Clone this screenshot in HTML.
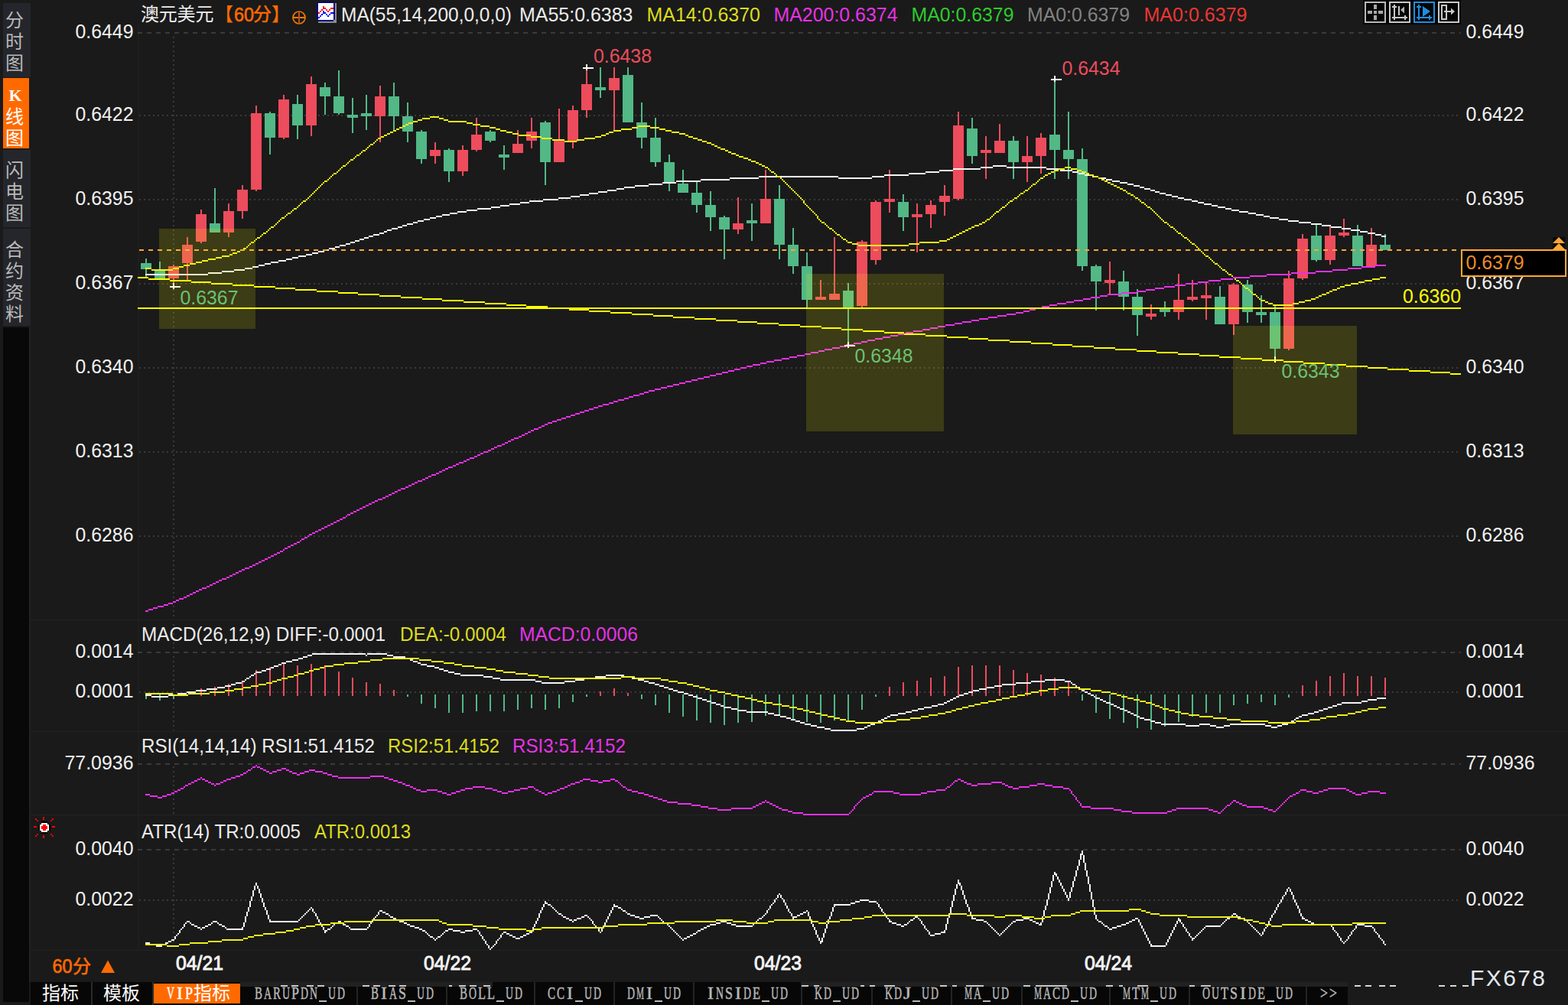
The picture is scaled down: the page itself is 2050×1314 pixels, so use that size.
<!DOCTYPE html><html><head><meta charset="utf-8"><title>chart</title>
<style>html,body{margin:0;padding:0;background:#1b1b1b;overflow:hidden}svg{display:block}text{font-family:"Liberation Sans",sans-serif;white-space:pre}.mono{font-family:"Liberation Mono",monospace}.serif{font-family:"Liberation Serif",serif}.cjk{font-family:"Liberation Sans","Noto Sans CJK SC",sans-serif}</style></head><body>
<svg width="2050" height="1314" viewBox="0 0 2050 1314">
<rect x="0" y="0" width="2050" height="1314" fill="#1a1a1a" />
<g shape-rendering="crispEdges">
<rect x="182" y="0" width="1728" height="1243" fill="#1a1a1a" />
<rect x="180" y="32" width="2" height="1211" fill="#1e1e1e" />
<rect x="4" y="4" width="36" height="97" fill="#25262b" />
<rect x="4" y="102" width="34" height="92" fill="#ff6a00" />
<rect x="4" y="196" width="36" height="101" fill="#25262b" />
<rect x="4" y="299" width="36" height="127" fill="#25262b" />
<rect x="4" y="428" width="34" height="882" fill="#080808" />
</g>
<text class="cjk" x="7" y="35.12" fill="#b9b9b9" font-size="24">分</text>
<text class="cjk" x="7" y="63.12" fill="#b9b9b9" font-size="24">时</text>
<text class="cjk" x="7" y="91.12" fill="#b9b9b9" font-size="24">图</text>
<text class="cjk" x="7" y="161.12" fill="#ffffff" font-size="24">线</text>
<text class="cjk" x="7" y="189.12" fill="#ffffff" font-size="24">图</text>
<text x="20" y="132" fill="#fff" font-size="22" text-anchor="middle" class="serif" style="font-family:'Liberation Serif',serif" font-weight="bold">K</text>
<text class="cjk" x="7" y="231.12" fill="#b9b9b9" font-size="24">闪</text>
<text class="cjk" x="7" y="259.12" fill="#b9b9b9" font-size="24">电</text>
<text class="cjk" x="7" y="287.12" fill="#b9b9b9" font-size="24">图</text>
<text class="cjk" x="7" y="335.12" fill="#b9b9b9" font-size="24">合</text>
<text class="cjk" x="7" y="363.12" fill="#b9b9b9" font-size="24">约</text>
<text class="cjk" x="7" y="391.12" fill="#b9b9b9" font-size="24">资</text>
<text class="cjk" x="7" y="419.12" fill="#b9b9b9" font-size="24">料</text>
<g shape-rendering="crispEdges">
<line x1="180" y1="43" x2="1910" y2="43" stroke="#3a3a3a" stroke-width="2" stroke-dasharray="6 6"/>
<line x1="182" y1="151" x2="1910" y2="151" stroke="#3a3a3a" stroke-width="2" stroke-dasharray="2 4"/>
<line x1="182" y1="261" x2="1910" y2="261" stroke="#3a3a3a" stroke-width="2" stroke-dasharray="2 4"/>
<line x1="182" y1="371" x2="1910" y2="371" stroke="#3a3a3a" stroke-width="2" stroke-dasharray="2 4"/>
<line x1="182" y1="481" x2="1910" y2="481" stroke="#3a3a3a" stroke-width="2" stroke-dasharray="2 4"/>
<line x1="182" y1="591" x2="1910" y2="591" stroke="#3a3a3a" stroke-width="2" stroke-dasharray="2 4"/>
<line x1="182" y1="701" x2="1910" y2="701" stroke="#3a3a3a" stroke-width="2" stroke-dasharray="2 4"/>
<rect x="40" y="810" width="2010" height="1" fill="#232323" />
<rect x="40" y="956" width="2010" height="1" fill="#232323" />
<rect x="40" y="1065" width="2010" height="1" fill="#232323" />
<rect x="40" y="1242" width="2010" height="1" fill="#232323" />
<line x1="180" y1="853" x2="1910" y2="853" stroke="#3a3a3a" stroke-width="2" stroke-dasharray="6 6"/>
<line x1="182" y1="905" x2="1910" y2="905" stroke="#3a3a3a" stroke-width="2" stroke-dasharray="2 4"/>
<line x1="180" y1="999" x2="1910" y2="999" stroke="#3a3a3a" stroke-width="2" stroke-dasharray="6 6"/>
<line x1="180" y1="1111" x2="1910" y2="1111" stroke="#3a3a3a" stroke-width="2" stroke-dasharray="6 6"/>
<line x1="182" y1="1177" x2="1910" y2="1177" stroke="#3a3a3a" stroke-width="2" stroke-dasharray="2 4"/>
<line x1="227" y1="48" x2="227" y2="809" stroke="#3a3a3a" stroke-width="2" stroke-dasharray="2 4"/>
<line x1="227" y1="816" x2="227" y2="955" stroke="#3a3a3a" stroke-width="2" stroke-dasharray="2 4"/>
<line x1="227" y1="1002" x2="227" y2="1064" stroke="#3a3a3a" stroke-width="2" stroke-dasharray="2 4"/>
<line x1="227" y1="1116" x2="227" y2="1241" stroke="#3a3a3a" stroke-width="2" stroke-dasharray="2 4"/>
</g>
<g shape-rendering="crispEdges">
<rect x="190" y="338" width="2" height="23.5" fill="#52b886" />
<rect x="184" y="344" width="14" height="8" fill="#52b886" />
<rect x="208" y="342" width="2" height="22" fill="#52b886" />
<rect x="202" y="353.5" width="14" height="10.5" fill="#52b886" />
<rect x="226" y="346" width="2" height="29" fill="#ed4c5c" />
<rect x="220" y="348" width="14" height="16" fill="#ed4c5c" />
<rect x="244" y="310" width="2" height="56" fill="#ed4c5c" />
<rect x="238" y="320" width="14" height="24" fill="#ed4c5c" />
<rect x="262" y="274" width="2" height="44" fill="#ed4c5c" />
<rect x="256" y="280" width="14" height="36" fill="#ed4c5c" />
<rect x="280" y="246" width="2" height="58" fill="#52b886" />
<rect x="274" y="292" width="14" height="12" fill="#52b886" />
<rect x="298" y="266" width="2" height="44" fill="#ed4c5c" />
<rect x="292" y="276" width="14" height="28" fill="#ed4c5c" />
<rect x="316" y="242" width="2" height="44" fill="#ed4c5c" />
<rect x="310" y="248" width="14" height="28" fill="#ed4c5c" />
<rect x="334" y="138" width="2" height="112" fill="#ed4c5c" />
<rect x="328" y="148" width="14" height="100" fill="#ed4c5c" />
<rect x="352" y="146" width="2" height="56" fill="#52b886" />
<rect x="346" y="148" width="14" height="32" fill="#52b886" />
<rect x="370" y="124" width="2" height="58" fill="#ed4c5c" />
<rect x="364" y="130" width="14" height="50" fill="#ed4c5c" />
<rect x="388" y="124" width="2" height="58" fill="#52b886" />
<rect x="382" y="136" width="14" height="28" fill="#52b886" />
<rect x="406" y="100" width="2" height="78" fill="#ed4c5c" />
<rect x="400" y="110" width="14" height="54" fill="#ed4c5c" />
<rect x="424" y="108" width="2" height="42" fill="#52b886" />
<rect x="418" y="114" width="14" height="12" fill="#52b886" />
<rect x="442" y="92" width="2" height="58" fill="#52b886" />
<rect x="436" y="126" width="14" height="22" fill="#52b886" />
<rect x="460" y="128" width="2" height="46" fill="#52b886" />
<rect x="454" y="150" width="14" height="4" fill="#52b886" />
<rect x="478" y="124" width="2" height="46" fill="#52b886" />
<rect x="472" y="148" width="14" height="4" fill="#52b886" />
<rect x="496" y="112" width="2" height="74" fill="#ed4c5c" />
<rect x="490" y="126" width="14" height="26" fill="#ed4c5c" />
<rect x="514" y="108" width="2" height="62" fill="#52b886" />
<rect x="508" y="126" width="14" height="26" fill="#52b886" />
<rect x="532" y="134" width="2" height="52" fill="#52b886" />
<rect x="526" y="152" width="14" height="20" fill="#52b886" />
<rect x="550" y="170" width="2" height="44" fill="#52b886" />
<rect x="544" y="172" width="14" height="36" fill="#52b886" />
<rect x="568" y="186" width="2" height="28" fill="#ed4c5c" />
<rect x="562" y="196" width="14" height="8" fill="#ed4c5c" />
<rect x="586" y="194" width="2" height="44" fill="#52b886" />
<rect x="580" y="196" width="14" height="28" fill="#52b886" />
<rect x="604" y="190" width="2" height="40" fill="#ed4c5c" />
<rect x="598" y="196" width="14" height="28" fill="#ed4c5c" />
<rect x="622" y="154" width="2" height="44" fill="#ed4c5c" />
<rect x="616" y="176" width="14" height="20" fill="#ed4c5c" />
<rect x="640" y="170" width="2" height="16" fill="#52b886" />
<rect x="634" y="172" width="14" height="12" fill="#52b886" />
<rect x="658" y="190" width="2" height="32" fill="#52b886" />
<rect x="652" y="202" width="14" height="4" fill="#52b886" />
<rect x="676" y="170" width="2" height="30" fill="#ed4c5c" />
<rect x="670" y="188" width="14" height="12" fill="#ed4c5c" />
<rect x="694" y="154" width="2" height="40" fill="#ed4c5c" />
<rect x="688" y="172" width="14" height="12" fill="#ed4c5c" />
<rect x="712" y="158" width="2" height="84" fill="#52b886" />
<rect x="706" y="160" width="14" height="52" fill="#52b886" />
<rect x="730" y="142" width="2" height="70" fill="#ed4c5c" />
<rect x="724" y="184" width="14" height="28" fill="#ed4c5c" />
<rect x="748" y="138" width="2" height="56" fill="#ed4c5c" />
<rect x="742" y="144" width="14" height="41" fill="#ed4c5c" />
<rect x="766" y="89" width="2" height="65" fill="#ed4c5c" />
<rect x="760" y="110" width="14" height="34" fill="#ed4c5c" />
<rect x="784" y="88" width="2" height="40" fill="#52b886" />
<rect x="778" y="114" width="14" height="4" fill="#52b886" />
<rect x="802" y="88" width="2" height="82" fill="#ed4c5c" />
<rect x="796" y="102" width="14" height="16" fill="#ed4c5c" />
<rect x="820" y="88" width="2" height="72" fill="#52b886" />
<rect x="814" y="98" width="14" height="62" fill="#52b886" />
<rect x="838" y="134" width="2" height="60" fill="#52b886" />
<rect x="832" y="160" width="14" height="20" fill="#52b886" />
<rect x="856" y="154" width="2" height="64" fill="#52b886" />
<rect x="850" y="180" width="14" height="32" fill="#52b886" />
<rect x="874" y="202" width="2" height="48" fill="#52b886" />
<rect x="868" y="212" width="14" height="28" fill="#52b886" />
<rect x="892" y="222" width="2" height="30" fill="#52b886" />
<rect x="886" y="240" width="14" height="12" fill="#52b886" />
<rect x="910" y="238" width="2" height="40" fill="#52b886" />
<rect x="904" y="252" width="14" height="16" fill="#52b886" />
<rect x="928" y="250" width="2" height="52" fill="#52b886" />
<rect x="922" y="268" width="14" height="16" fill="#52b886" />
<rect x="946" y="282" width="2" height="56.5" fill="#52b886" />
<rect x="940" y="284" width="14" height="16" fill="#52b886" />
<rect x="964" y="258" width="2" height="48" fill="#ed4c5c" />
<rect x="958" y="292" width="14" height="8" fill="#ed4c5c" />
<rect x="982" y="266" width="2" height="48.5" fill="#52b886" />
<rect x="976" y="288" width="14" height="4" fill="#52b886" />
<rect x="1000" y="222" width="2" height="70" fill="#ed4c5c" />
<rect x="994" y="260" width="14" height="32" fill="#ed4c5c" />
<rect x="1018" y="242" width="2" height="96.5" fill="#52b886" />
<rect x="1012" y="260" width="14" height="60" fill="#52b886" />
<rect x="1036" y="298" width="2" height="60" fill="#52b886" />
<rect x="1030" y="320" width="14" height="28" fill="#52b886" />
<rect x="1054" y="330" width="2" height="74" fill="#52b886" />
<rect x="1048" y="348" width="14" height="43.5" fill="#52b886" />
<rect x="1072" y="366" width="2" height="25.5" fill="#ed4c5c" />
<rect x="1066" y="388" width="14" height="3.5" fill="#ed4c5c" />
<rect x="1090" y="310" width="2" height="81.5" fill="#ed4c5c" />
<rect x="1084" y="384" width="14" height="7.5" fill="#ed4c5c" />
<rect x="1108" y="370" width="2" height="81.5" fill="#52b886" />
<rect x="1102" y="380" width="14" height="22" fill="#52b886" />
<rect x="1126" y="314" width="2" height="88" fill="#ed4c5c" />
<rect x="1120" y="316" width="14" height="84" fill="#ed4c5c" />
<rect x="1144" y="262" width="2" height="84" fill="#ed4c5c" />
<rect x="1138" y="264" width="14" height="76" fill="#ed4c5c" />
<rect x="1162" y="222" width="2" height="56" fill="#ed4c5c" />
<rect x="1156" y="260" width="14" height="4" fill="#ed4c5c" />
<rect x="1180" y="254" width="2" height="48" fill="#52b886" />
<rect x="1174" y="264" width="14" height="20" fill="#52b886" />
<rect x="1198" y="266" width="2" height="64" fill="#ed4c5c" />
<rect x="1192" y="280" width="14" height="4" fill="#ed4c5c" />
<rect x="1216" y="262" width="2" height="36" fill="#ed4c5c" />
<rect x="1210" y="268" width="14" height="12" fill="#ed4c5c" />
<rect x="1234" y="242" width="2" height="40" fill="#ed4c5c" />
<rect x="1228" y="256" width="14" height="8" fill="#ed4c5c" />
<rect x="1252" y="146" width="2" height="116" fill="#ed4c5c" />
<rect x="1246" y="164" width="14" height="96" fill="#ed4c5c" />
<rect x="1270" y="154" width="2" height="60" fill="#52b886" />
<rect x="1264" y="168" width="14" height="36" fill="#52b886" />
<rect x="1288" y="178" width="2" height="56" fill="#ed4c5c" />
<rect x="1282" y="196" width="14" height="4" fill="#ed4c5c" />
<rect x="1306" y="162" width="2" height="38" fill="#ed4c5c" />
<rect x="1300" y="184" width="14" height="16" fill="#ed4c5c" />
<rect x="1324" y="178" width="2" height="56" fill="#52b886" />
<rect x="1318" y="184" width="14" height="28" fill="#52b886" />
<rect x="1342" y="178" width="2" height="60" fill="#ed4c5c" />
<rect x="1336" y="204" width="14" height="8" fill="#ed4c5c" />
<rect x="1360" y="174" width="2" height="52.5" fill="#ed4c5c" />
<rect x="1354" y="180" width="14" height="24" fill="#ed4c5c" />
<rect x="1378" y="104" width="2" height="130" fill="#52b886" />
<rect x="1372" y="176" width="14" height="20" fill="#52b886" />
<rect x="1396" y="146" width="2" height="88" fill="#52b886" />
<rect x="1390" y="196" width="14" height="12" fill="#52b886" />
<rect x="1414" y="194" width="2" height="160" fill="#52b886" />
<rect x="1408" y="208" width="14" height="140" fill="#52b886" />
<rect x="1432" y="346" width="2" height="60" fill="#52b886" />
<rect x="1426" y="348" width="14" height="20" fill="#52b886" />
<rect x="1450" y="342" width="2" height="42" fill="#ed4c5c" />
<rect x="1444" y="366" width="14" height="4" fill="#ed4c5c" />
<rect x="1468" y="354" width="2" height="52" fill="#52b886" />
<rect x="1462" y="368" width="14" height="20" fill="#52b886" />
<rect x="1486" y="378" width="2" height="60.5" fill="#52b886" />
<rect x="1480" y="388" width="14" height="24" fill="#52b886" />
<rect x="1504" y="398" width="2" height="20" fill="#ed4c5c" />
<rect x="1498" y="410" width="14" height="4" fill="#ed4c5c" />
<rect x="1522" y="394" width="2" height="20" fill="#52b886" />
<rect x="1516" y="404" width="14" height="4" fill="#52b886" />
<rect x="1540" y="358" width="2" height="60" fill="#ed4c5c" />
<rect x="1534" y="392" width="14" height="16" fill="#ed4c5c" />
<rect x="1558" y="366" width="2" height="28" fill="#ed4c5c" />
<rect x="1552" y="388" width="14" height="4" fill="#ed4c5c" />
<rect x="1576" y="370" width="2" height="48" fill="#ed4c5c" />
<rect x="1570" y="386" width="14" height="4" fill="#ed4c5c" />
<rect x="1594" y="374" width="2" height="50" fill="#52b886" />
<rect x="1588" y="388" width="14" height="36" fill="#52b886" />
<rect x="1612" y="370" width="2" height="68" fill="#ed4c5c" />
<rect x="1606" y="372" width="14" height="52" fill="#ed4c5c" />
<rect x="1630" y="366" width="2" height="56" fill="#52b886" />
<rect x="1624" y="372" width="14" height="36" fill="#52b886" />
<rect x="1648" y="386" width="2" height="36" fill="#52b886" />
<rect x="1642" y="408" width="14" height="4" fill="#52b886" />
<rect x="1666" y="400" width="2" height="72" fill="#52b886" />
<rect x="1660" y="408" width="14" height="48" fill="#52b886" />
<rect x="1684" y="354" width="2" height="104" fill="#ed4c5c" />
<rect x="1678" y="364" width="14" height="92" fill="#ed4c5c" />
<rect x="1702" y="306" width="2" height="60" fill="#ed4c5c" />
<rect x="1696" y="312" width="14" height="52" fill="#ed4c5c" />
<rect x="1720" y="292" width="2" height="50" fill="#52b886" />
<rect x="1714" y="308" width="14" height="32" fill="#52b886" />
<rect x="1738" y="296" width="2" height="50" fill="#ed4c5c" />
<rect x="1732" y="308" width="14" height="32" fill="#ed4c5c" />
<rect x="1756" y="286" width="2" height="24" fill="#ed4c5c" />
<rect x="1750" y="304" width="14" height="4" fill="#ed4c5c" />
<rect x="1774" y="294" width="2" height="54" fill="#52b886" />
<rect x="1768" y="308" width="14" height="40" fill="#52b886" />
<rect x="1792" y="298" width="2" height="50" fill="#ed4c5c" />
<rect x="1786" y="320" width="14" height="28" fill="#ed4c5c" />
<rect x="1810" y="306" width="2" height="21" fill="#52b886" />
<rect x="1804" y="320" width="14" height="7" fill="#52b886" />
<path d="M190 358h82v2h-82zM272 356h18v2h-18zM290 354h16v2h-16zM306 352h14v2h-14zM320 350h10v2h-10zM330 348h8v2h-8zM338 346h8v2h-8zM346 344h8v2h-8zM354 342h10v2h-10zM364 340h10v2h-10zM374 338h8v2h-8zM382 336h8v2h-8zM390 334h10v2h-10zM400 332h8v2h-8zM408 330h8v2h-8zM416 328h8v2h-8zM424 326h6v2h-6zM430 324h8v2h-8zM438 322h6v2h-6zM444 320h8v2h-8zM452 318h6v2h-6zM458 316h6v2h-6zM464 314h6v2h-6zM470 312h6v2h-6zM476 310h6v2h-6zM482 308h6v2h-6zM488 306h8v2h-8zM496 304h6v2h-6zM502 302h4v2h-4zM506 300h6v2h-6zM512 298h8v2h-8zM520 296h6v2h-6zM526 294h6v2h-6zM532 292h8v2h-8zM540 290h6v2h-6zM546 288h8v2h-8zM554 286h8v2h-8zM562 284h8v2h-8zM570 282h8v2h-8zM578 280h10v2h-10zM588 278h10v2h-10zM598 276h12v2h-12zM610 274h14v2h-14zM624 272h18v2h-18zM642 270h12v2h-12zM654 268h12v2h-12zM666 266h14v2h-14zM680 264h12v2h-12zM692 262h18v2h-18zM710 260h20v2h-20zM730 258h16v2h-16zM746 256h12v2h-12zM758 254h12v2h-12zM770 252h12v2h-12zM782 250h12v2h-12zM794 248h12v2h-12zM806 246h10v2h-10zM816 244h14v2h-14zM830 242h18v2h-18zM848 240h18v2h-18zM866 238h18v2h-18zM884 236h32v2h-32zM916 234h38v2h-38zM954 232h38v2h-38zM992 230h104v2h-104zM1096 232h44v2h-44zM1140 230h16v2h-16zM1156 228h32v2h-32zM1188 226h22v2h-22zM1210 224h18v2h-18zM1228 222h18v2h-18zM1246 220h36v2h-36zM1282 218h16v2h-16zM1298 216h18v2h-18zM1316 218h52v2h-52zM1368 220h18v2h-18zM1386 222h16v2h-16zM1402 224h8v2h-8zM1410 226h8v2h-8zM1418 228h10v2h-10zM1428 230h8v2h-8zM1436 232h10v2h-10zM1446 234h8v2h-8zM1454 236h10v2h-10zM1464 238h10v2h-10zM1474 240h8v2h-8zM1482 242h8v2h-8zM1490 244h6v2h-6zM1496 246h8v2h-8zM1504 248h6v2h-6zM1510 250h6v2h-6zM1516 252h8v2h-8zM1524 254h8v2h-8zM1532 256h8v2h-8zM1540 258h8v2h-8zM1548 260h10v2h-10zM1558 262h8v2h-8zM1566 264h8v2h-8zM1574 266h10v2h-10zM1584 268h8v2h-8zM1592 270h10v2h-10zM1602 272h8v2h-8zM1610 274h10v2h-10zM1620 276h12v2h-12zM1632 278h10v2h-10zM1642 280h10v2h-10zM1652 282h8v2h-8zM1660 284h12v2h-12zM1672 286h12v2h-12zM1684 288h14v2h-14zM1698 290h16v2h-16zM1714 292h14v2h-14zM1728 294h12v2h-12zM1740 296h14v2h-14zM1754 298h12v2h-12zM1766 300h12v2h-12zM1778 302h10v2h-10zM1788 304h10v2h-10zM1798 306h8v2h-8zM1806 308h6v2h-6z" fill="#f4f4f4" />
<path d="M190 350h8v2h-8zM198 352h28v2h-28zM226 350h8v2h-8zM234 348h6v2h-6zM240 346h8v2h-8zM248 344h8v2h-8zM256 342h8v2h-8zM264 340h8v2h-8zM272 338h10v2h-10zM282 336h8v2h-8zM290 334h10v2h-10zM300 332h4v2h-4zM304 330h6v2h-6zM310 328h4v2h-4zM314 326h4v2h-4zM318 324h4v2h-4zM322 322h2v2h-2zM324 320h2v2h-2zM326 318h2v2h-2zM328 316h4v2h-4zM332 314h2v2h-2zM334 312h2v2h-2zM336 310h4v2h-4zM340 308h2v2h-2zM342 306h2v2h-2zM344 304h4v2h-4zM348 302h2v2h-2zM350 300h2v2h-2zM352 298h2v2h-2zM354 296h4v2h-4zM358 294h2v2h-2zM360 292h2v2h-2zM362 290h2v2h-2zM364 288h2v2h-2zM366 286h2v2h-2zM368 284h4v2h-4zM372 282h2v2h-2zM374 280h2v2h-2zM376 278h4v2h-4zM380 276h2v2h-2zM382 274h2v2h-2zM384 272h4v2h-4zM388 270h2v2h-2zM390 268h2v2h-2zM392 266h2v2h-2zM394 264h2v2h-2zM396 262h4v2h-4zM400 260h2v2h-2zM402 258h2v2h-2zM404 256h2v2h-2zM406 254h2v2h-2zM408 252h2v2h-2zM410 250h2v2h-2zM412 248h2v2h-2zM414 246h2v2h-2zM416 244h2v2h-2zM418 242h2v2h-2zM420 240h2v2h-2zM422 238h2v2h-2zM424 236h4v2h-4zM428 234h2v2h-2zM430 232h2v2h-2zM432 230h2v2h-2zM434 228h2v2h-2zM436 226h4v2h-4zM440 224h2v2h-2zM442 222h2v2h-2zM444 220h2v2h-2zM446 218h2v2h-2zM448 216h4v2h-4zM452 214h2v2h-2zM454 212h2v2h-2zM456 210h2v2h-2zM458 208h4v2h-4zM462 206h2v2h-2zM464 204h2v2h-2zM466 202h4v2h-4zM470 200h2v2h-2zM472 198h2v2h-2zM474 196h4v2h-4zM478 194h2v2h-2zM480 192h2v2h-2zM482 190h2v2h-2zM484 188h4v2h-4zM488 186h2v2h-2zM490 184h2v2h-2zM492 182h2v2h-2zM494 180h4v2h-4zM498 178h4v2h-4zM502 176h4v2h-4zM506 174h4v2h-4zM510 172h4v2h-4zM514 170h4v2h-4zM518 168h4v2h-4zM522 166h4v2h-4zM526 164h4v2h-4zM530 162h4v2h-4zM534 160h6v2h-6zM540 158h6v2h-6zM546 156h6v2h-6zM552 154h10v2h-10zM562 152h12v2h-12zM574 154h6v2h-6zM580 156h6v2h-6zM586 158h24v2h-24zM610 160h8v2h-8zM618 162h10v2h-10zM628 164h12v2h-12zM640 166h8v2h-8zM648 168h6v2h-6zM654 170h8v2h-8zM662 172h8v2h-8zM670 174h8v2h-8zM678 176h16v2h-16zM694 178h14v2h-14zM708 180h14v2h-14zM722 182h16v2h-16zM738 184h16v2h-16zM754 182h10v2h-10zM764 180h14v2h-14zM778 178h8v2h-8zM786 176h6v2h-6zM792 174h4v2h-4zM796 172h6v2h-6zM802 170h10v2h-10zM812 168h14v2h-14zM826 166h8v2h-8zM834 164h16v2h-16zM850 166h12v2h-12zM862 168h8v2h-8zM870 170h8v2h-8zM878 172h10v2h-10zM888 174h8v2h-8zM896 176h4v2h-4zM900 178h6v2h-6zM906 180h6v2h-6zM912 182h6v2h-6zM918 184h6v2h-6zM924 186h6v2h-6zM930 188h4v2h-4zM934 190h4v2h-4zM938 192h4v2h-4zM942 194h6v2h-6zM948 196h4v2h-4zM952 198h4v2h-4zM956 200h6v2h-6zM962 202h4v2h-4zM966 204h6v2h-6zM972 206h6v2h-6zM978 208h4v2h-4zM982 210h6v2h-6zM988 212h4v2h-4zM992 214h4v2h-4zM996 216h4v2h-4zM1000 218h4v2h-4zM1004 220h2v2h-2zM1006 222h2v2h-2zM1008 224h4v2h-4zM1012 226h2v2h-2zM1014 228h2v2h-2zM1016 230h4v2h-4zM1020 232h2v2h-2zM1022 234h2v2h-2zM1024 236h2v2h-2zM1026 238h2v2h-2zM1028 240h2v2h-2zM1030 242h2v2h-2zM1032 244h2v2h-2zM1034 246h2v2h-2zM1036 248h2v2h-2zM1038 250h2v2h-2zM1040 252h2v2h-2zM1042 254h2v2h-2zM1044 256h2v2h-2zM1046 258h2v2h-2zM1048 260h2v2h-2zM1050 262h2v4h-2zM1052 266h2v2h-2zM1054 268h2v2h-2zM1056 270h2v2h-2zM1058 272h2v2h-2zM1060 274h2v2h-2zM1062 276h2v2h-2zM1064 278h2v2h-2zM1066 280h2v2h-2zM1068 282h2v4h-2zM1070 286h2v2h-2zM1072 288h2v2h-2zM1074 290h4v2h-4zM1078 292h2v2h-2zM1080 294h2v2h-2zM1082 296h2v2h-2zM1084 298h4v2h-4zM1088 300h2v2h-2zM1090 302h2v2h-2zM1092 304h2v2h-2zM1094 306h4v2h-4zM1098 308h2v2h-2zM1100 310h2v2h-2zM1102 312h4v2h-4zM1106 314h2v2h-2zM1108 316h6v2h-6zM1114 318h8v2h-8zM1122 320h66v2h-66zM1188 318h14v2h-14zM1202 316h26v2h-26zM1228 314h10v2h-10zM1238 312h4v2h-4zM1242 310h4v2h-4zM1246 308h4v2h-4zM1250 306h4v2h-4zM1254 304h4v2h-4zM1258 302h4v2h-4zM1262 300h4v2h-4zM1266 298h4v2h-4zM1270 296h4v2h-4zM1274 294h6v2h-6zM1280 292h4v2h-4zM1284 290h4v2h-4zM1288 288h2v2h-2zM1290 286h4v2h-4zM1294 284h2v2h-2zM1296 282h2v2h-2zM1298 280h2v2h-2zM1300 278h2v2h-2zM1302 276h4v2h-4zM1306 274h2v2h-2zM1308 272h2v2h-2zM1310 270h4v2h-4zM1314 268h2v2h-2zM1316 266h2v2h-2zM1318 264h2v2h-2zM1320 262h4v2h-4zM1324 260h2v2h-2zM1326 258h4v2h-4zM1330 256h2v2h-2zM1332 254h2v2h-2zM1334 252h4v2h-4zM1338 250h2v2h-2zM1340 248h4v2h-4zM1344 246h2v2h-2zM1346 244h2v2h-2zM1348 242h2v2h-2zM1350 240h4v2h-4zM1354 238h2v2h-2zM1356 236h2v2h-2zM1358 234h2v2h-2zM1360 232h4v2h-4zM1364 230h2v2h-2zM1366 228h4v2h-4zM1370 226h4v2h-4zM1374 224h4v2h-4zM1378 222h6v2h-6zM1384 220h8v2h-8zM1392 218h8v2h-8zM1400 220h8v2h-8zM1408 222h6v2h-6zM1414 224h6v2h-6zM1420 226h4v2h-4zM1424 228h6v2h-6zM1430 230h6v2h-6zM1436 232h4v2h-4zM1440 234h4v2h-4zM1444 236h4v2h-4zM1448 238h4v2h-4zM1452 240h4v2h-4zM1456 242h4v2h-4zM1460 244h4v2h-4zM1464 246h4v2h-4zM1468 248h4v2h-4zM1472 250h2v2h-2zM1474 252h4v2h-4zM1478 254h4v2h-4zM1482 256h2v2h-2zM1484 258h4v2h-4zM1488 260h2v2h-2zM1490 262h2v2h-2zM1492 264h4v2h-4zM1496 266h2v2h-2zM1498 268h2v2h-2zM1500 270h4v2h-4zM1504 272h2v2h-2zM1506 274h2v2h-2zM1508 276h2v2h-2zM1510 278h2v2h-2zM1512 280h2v2h-2zM1514 282h2v2h-2zM1516 284h2v2h-2zM1518 286h2v2h-2zM1520 288h2v2h-2zM1522 290h4v2h-4zM1526 292h2v2h-2zM1528 294h2v2h-2zM1530 296h4v2h-4zM1534 298h2v2h-2zM1536 300h2v2h-2zM1538 302h2v2h-2zM1540 304h4v2h-4zM1544 306h2v2h-2zM1546 308h2v2h-2zM1548 310h4v2h-4zM1552 312h2v2h-2zM1554 314h2v2h-2zM1556 316h2v2h-2zM1558 318h4v2h-4zM1562 320h2v2h-2zM1564 322h2v2h-2zM1566 324h2v2h-2zM1568 326h2v2h-2zM1570 328h2v2h-2zM1572 330h2v2h-2zM1574 332h2v2h-2zM1576 334h4v2h-4zM1580 336h2v2h-2zM1582 338h2v2h-2zM1584 340h2v2h-2zM1586 342h2v2h-2zM1588 344h4v2h-4zM1592 346h2v2h-2zM1594 348h2v2h-2zM1596 350h2v2h-2zM1598 352h4v2h-4zM1602 354h2v2h-2zM1604 356h2v2h-2zM1606 358h4v2h-4zM1610 360h2v2h-2zM1612 362h2v2h-2zM1614 364h2v2h-2zM1616 366h4v2h-4zM1620 368h2v2h-2zM1622 370h2v2h-2zM1624 372h2v2h-2zM1626 374h2v2h-2zM1628 376h4v2h-4zM1632 378h2v2h-2zM1634 380h2v2h-2zM1636 382h2v2h-2zM1638 384h4v2h-4zM1642 386h2v2h-2zM1644 388h2v2h-2zM1646 390h2v2h-2zM1648 392h6v2h-6zM1654 394h4v2h-4zM1658 396h6v2h-6zM1664 398h26v2h-26zM1690 396h8v2h-8zM1698 394h8v2h-8zM1706 392h8v2h-8zM1714 390h6v2h-6zM1720 388h4v2h-4zM1724 386h4v2h-4zM1728 384h6v2h-6zM1734 382h4v2h-4zM1738 380h4v2h-4zM1742 378h6v2h-6zM1748 376h4v2h-4zM1752 374h6v2h-6zM1758 372h8v2h-8zM1766 370h10v2h-10zM1776 368h8v2h-8zM1784 366h10v2h-10zM1794 364h10v2h-10zM1804 362h8v2h-8z" fill="#f0f018" />
<path d="M190 798h4v2h-4zM194 796h6v2h-6zM200 794h6v2h-6zM206 792h8v2h-8zM214 790h6v2h-6zM220 788h6v2h-6zM226 786h4v2h-4zM230 784h4v2h-4zM234 782h6v2h-6zM240 780h4v2h-4zM244 778h4v2h-4zM248 776h4v2h-4zM252 774h4v2h-4zM256 772h4v2h-4zM260 770h4v2h-4zM264 768h6v2h-6zM270 766h4v2h-4zM274 764h4v2h-4zM278 762h4v2h-4zM282 760h4v2h-4zM286 758h4v2h-4zM290 756h6v2h-6zM296 754h4v2h-4zM300 752h4v2h-4zM304 750h4v2h-4zM308 748h4v2h-4zM312 746h4v2h-4zM316 744h4v2h-4zM320 742h6v2h-6zM326 740h4v2h-4zM330 738h4v2h-4zM334 736h4v2h-4zM338 734h4v2h-4zM342 732h4v2h-4zM346 730h4v2h-4zM350 728h4v2h-4zM354 726h4v2h-4zM358 724h4v2h-4zM362 722h4v2h-4zM366 720h4v2h-4zM370 718h2v2h-2zM372 716h4v2h-4zM376 714h4v2h-4zM380 712h4v2h-4zM384 710h4v2h-4zM388 708h4v2h-4zM392 706h2v2h-2zM394 704h4v2h-4zM398 702h4v2h-4zM402 700h2v2h-2zM404 698h4v2h-4zM408 696h4v2h-4zM412 694h4v2h-4zM416 692h4v2h-4zM420 690h4v2h-4zM424 688h4v2h-4zM428 686h4v2h-4zM432 684h4v2h-4zM436 682h4v2h-4zM440 680h4v2h-4zM444 678h4v2h-4zM448 676h4v2h-4zM452 674h2v2h-2zM454 672h4v2h-4zM458 670h4v2h-4zM462 668h4v2h-4zM466 666h4v2h-4zM470 664h4v2h-4zM474 662h4v2h-4zM478 660h4v2h-4zM482 658h4v2h-4zM486 656h4v2h-4zM490 654h4v2h-4zM494 652h6v2h-6zM500 650h4v2h-4zM504 648h4v2h-4zM508 646h4v2h-4zM512 644h4v2h-4zM516 642h4v2h-4zM520 640h4v2h-4zM524 638h6v2h-6zM530 636h4v2h-4zM534 634h4v2h-4zM538 632h4v2h-4zM542 630h4v2h-4zM546 628h6v2h-6zM552 626h4v2h-4zM556 624h4v2h-4zM560 622h4v2h-4zM564 620h6v2h-6zM570 618h4v2h-4zM574 616h4v2h-4zM578 614h4v2h-4zM582 612h4v2h-4zM586 610h6v2h-6zM592 608h4v2h-4zM596 606h4v2h-4zM600 604h6v2h-6zM606 602h4v2h-4zM610 600h4v2h-4zM614 598h6v2h-6zM620 596h4v2h-4zM624 594h4v2h-4zM628 592h4v2h-4zM632 590h6v2h-6zM638 588h4v2h-4zM642 586h4v2h-4zM646 584h4v2h-4zM650 582h6v2h-6zM656 580h4v2h-4zM660 578h4v2h-4zM664 576h4v2h-4zM668 574h4v2h-4zM672 572h6v2h-6zM678 570h4v2h-4zM682 568h4v2h-4zM686 566h4v2h-4zM690 564h4v2h-4zM694 562h4v2h-4zM698 560h6v2h-6zM704 558h4v2h-4zM708 556h4v2h-4zM712 554h4v2h-4zM716 552h6v2h-6zM722 550h6v2h-6zM728 548h6v2h-6zM734 546h6v2h-6zM740 544h6v2h-6zM746 542h6v2h-6zM752 540h6v2h-6zM758 538h6v2h-6zM764 536h6v2h-6zM770 534h6v2h-6zM776 532h6v2h-6zM782 530h6v2h-6zM788 528h8v2h-8zM796 526h6v2h-6zM802 524h6v2h-6zM808 522h8v2h-8zM816 520h6v2h-6zM822 518h6v2h-6zM828 516h8v2h-8zM836 514h6v2h-6zM842 512h6v2h-6zM848 510h8v2h-8zM856 508h8v2h-8zM864 506h8v2h-8zM872 504h8v2h-8zM880 502h8v2h-8zM888 500h8v2h-8zM896 498h8v2h-8zM904 496h8v2h-8zM912 494h8v2h-8zM920 492h8v2h-8zM928 490h8v2h-8zM936 488h8v2h-8zM944 486h8v2h-8zM952 484h8v2h-8zM960 482h8v2h-8zM968 480h8v2h-8zM976 478h8v2h-8zM984 476h10v2h-10zM994 474h8v2h-8zM1002 472h10v2h-10zM1012 470h10v2h-10zM1022 468h10v2h-10zM1032 466h10v2h-10zM1042 464h10v2h-10zM1052 462h8v2h-8zM1060 460h10v2h-10zM1070 458h8v2h-8zM1078 456h10v2h-10zM1088 454h10v2h-10zM1098 452h8v2h-8zM1106 450h10v2h-10zM1116 448h10v2h-10zM1126 446h8v2h-8zM1134 444h10v2h-10zM1144 442h10v2h-10zM1154 440h10v2h-10zM1164 438h10v2h-10zM1174 436h10v2h-10zM1184 434h10v2h-10zM1194 432h12v2h-12zM1206 430h10v2h-10zM1216 428h10v2h-10zM1226 426h10v2h-10zM1236 424h12v2h-12zM1248 422h10v2h-10zM1258 420h12v2h-12zM1270 418h10v2h-10zM1280 416h12v2h-12zM1292 414h12v2h-12zM1304 412h12v2h-12zM1316 410h12v2h-12zM1328 408h10v2h-10zM1338 406h8v2h-8zM1346 404h8v2h-8zM1354 402h8v2h-8zM1362 400h10v2h-10zM1372 398h10v2h-10zM1382 396h12v2h-12zM1394 394h10v2h-10zM1404 392h12v2h-12zM1416 390h10v2h-10zM1426 388h12v2h-12zM1438 386h10v2h-10zM1448 384h18v2h-18zM1466 382h20v2h-20zM1486 380h12v2h-12zM1498 378h12v2h-12zM1510 376h12v2h-12zM1522 374h14v2h-14zM1536 372h14v2h-14zM1550 370h16v2h-16zM1566 368h14v2h-14zM1580 366h16v2h-16zM1596 364h16v2h-16zM1612 362h22v2h-22zM1634 360h22v2h-22zM1656 358h32v2h-32zM1688 356h32v2h-32zM1720 354h22v2h-22zM1742 352h20v2h-20zM1762 350h18v2h-18zM1780 348h18v2h-18zM1798 346h14v2h-14z" fill="#e930e9" />
<rect x="762" y="88" width="14" height="2" fill="#ffffff" />
<rect x="766" y="84" width="2" height="8" fill="#ffffff" />
<rect x="1374" y="103" width="14" height="2" fill="#ffffff" />
<rect x="1378" y="99" width="2" height="8" fill="#ffffff" />
<rect x="222" y="374" width="14" height="2" fill="#ffffff" />
<rect x="226" y="370" width="2" height="8" fill="#ffffff" />
<rect x="1104" y="450.5" width="14" height="2" fill="#ffffff" />
<rect x="1108" y="446.5" width="2" height="8" fill="#ffffff" />
<rect x="1662" y="470" width="14" height="2" fill="#ffffff" />
<rect x="1666" y="466" width="2" height="8" fill="#ffffff" />
<path d="M180 362h14v2h-14zM194 364h28v2h-28zM222 366h28v2h-28zM250 368h26v2h-26zM276 370h28v2h-28zM304 372h28v2h-28zM332 374h28v2h-28zM360 376h26v2h-26zM386 378h28v2h-28zM414 380h28v2h-28zM442 382h26v2h-26zM468 384h28v2h-28zM496 386h28v2h-28zM524 388h28v2h-28zM552 390h26v2h-26zM578 392h28v2h-28zM606 394h28v2h-28zM634 396h28v2h-28zM662 398h26v2h-26zM688 400h28v2h-28zM716 402h28v2h-28zM744 404h26v2h-26zM770 406h28v2h-28zM798 408h28v2h-28zM826 410h28v2h-28zM854 412h26v2h-26zM880 414h28v2h-28zM908 416h28v2h-28zM936 418h28v2h-28zM964 420h26v2h-26zM990 422h28v2h-28zM1018 424h28v2h-28zM1046 426h28v2h-28zM1074 428h26v2h-26zM1100 430h28v2h-28zM1128 432h28v2h-28zM1156 434h26v2h-26zM1182 436h28v2h-28zM1210 438h28v2h-28zM1238 440h28v2h-28zM1266 442h26v2h-26zM1292 444h28v2h-28zM1320 446h28v2h-28zM1348 448h28v2h-28zM1376 450h26v2h-26zM1402 452h28v2h-28zM1430 454h28v2h-28zM1458 456h28v2h-28zM1486 458h26v2h-26zM1512 460h28v2h-28zM1540 462h28v2h-28zM1568 464h26v2h-26zM1594 466h28v2h-28zM1622 468h28v2h-28zM1650 470h28v2h-28zM1678 472h26v2h-26zM1704 474h28v2h-28zM1732 476h28v2h-28zM1760 478h28v2h-28zM1788 480h26v2h-26zM1814 482h28v2h-28zM1842 484h28v2h-28zM1870 486h26v2h-26zM1896 488h14v2h-14z" fill="#ffff00" />
<rect x="180" y="402" width="1730" height="2" fill="#ffff00" />
<line x1="182" y1="327" x2="1910" y2="327" stroke="#ffa632" stroke-width="2" stroke-dasharray="6 6"/>
</g>
<text x="776" y="82" fill="#ed4c5c" font-size="25.4" text-anchor="start" font-weight="normal" textLength="76" lengthAdjust="spacingAndGlyphs" >0.6438</text>
<text x="1388.5" y="98" fill="#ed4c5c" font-size="25.4" text-anchor="start" font-weight="normal" textLength="76" lengthAdjust="spacingAndGlyphs" >0.6434</text>
<text x="235.5" y="398" fill="#52b886" font-size="25.4" text-anchor="start" font-weight="normal" textLength="76" lengthAdjust="spacingAndGlyphs" >0.6367</text>
<text x="1117.5" y="474" fill="#52b886" font-size="25.4" text-anchor="start" font-weight="normal" textLength="76" lengthAdjust="spacingAndGlyphs" >0.6348</text>
<text x="1675.5" y="494" fill="#52b886" font-size="25.4" text-anchor="start" font-weight="normal" textLength="76" lengthAdjust="spacingAndGlyphs" >0.6343</text>
<text x="1834" y="396" fill="#ffff00" font-size="25.4" text-anchor="start" font-weight="normal" textLength="76" lengthAdjust="spacingAndGlyphs" >0.6360</text>
<g shape-rendering="crispEdges">
<rect x="208" y="298.5" width="126" height="131.5" fill="rgba(255,255,0,0.15)" />
<rect x="1054" y="358" width="180" height="206" fill="rgba(255,255,0,0.15)" />
<rect x="1612" y="426" width="162" height="142" fill="rgba(255,255,0,0.15)" />
</g>
<g shape-rendering="crispEdges">
<rect x="190" y="908" width="2" height="5.7" fill="#52b886" />
<rect x="208" y="908" width="2" height="7.6" fill="#52b886" />
<rect x="226" y="908" width="2" height="5.7" fill="#52b886" />
<rect x="244" y="907.5" width="2" height="2.5" fill="#ed4c5c" />
<rect x="262" y="900" width="2" height="10" fill="#ed4c5c" />
<rect x="280" y="897.8" width="2" height="12.2" fill="#ed4c5c" />
<rect x="298" y="893.9" width="2" height="16.1" fill="#ed4c5c" />
<rect x="316" y="890.2" width="2" height="19.8" fill="#ed4c5c" />
<rect x="334" y="876" width="2" height="34" fill="#ed4c5c" />
<rect x="352" y="872.4" width="2" height="37.6" fill="#ed4c5c" />
<rect x="370" y="866" width="2" height="44" fill="#ed4c5c" />
<rect x="388" y="870" width="2" height="40" fill="#ed4c5c" />
<rect x="406" y="868" width="2" height="42" fill="#ed4c5c" />
<rect x="424" y="870" width="2" height="40" fill="#ed4c5c" />
<rect x="442" y="878" width="2" height="32" fill="#ed4c5c" />
<rect x="460" y="886" width="2" height="24" fill="#ed4c5c" />
<rect x="478" y="891.9" width="2" height="18.1" fill="#ed4c5c" />
<rect x="496" y="893.9" width="2" height="16.1" fill="#ed4c5c" />
<rect x="514" y="902" width="2" height="8" fill="#ed4c5c" />
<rect x="532" y="908" width="2" height="2.5" fill="#52b886" />
<rect x="550" y="908" width="2" height="11.9" fill="#52b886" />
<rect x="568" y="908" width="2" height="17.5" fill="#52b886" />
<rect x="586" y="908" width="2" height="23.8" fill="#52b886" />
<rect x="604" y="908" width="2" height="23.8" fill="#52b886" />
<rect x="622" y="908" width="2" height="21.8" fill="#52b886" />
<rect x="640" y="908" width="2" height="21.8" fill="#52b886" />
<rect x="658" y="908" width="2" height="21.8" fill="#52b886" />
<rect x="676" y="908" width="2" height="19.8" fill="#52b886" />
<rect x="694" y="908" width="2" height="17.8" fill="#52b886" />
<rect x="712" y="908" width="2" height="19.8" fill="#52b886" />
<rect x="730" y="908" width="2" height="17.8" fill="#52b886" />
<rect x="748" y="908" width="2" height="9.6" fill="#52b886" />
<rect x="766" y="908" width="2" height="2.5" fill="#52b886" />
<rect x="784" y="903.8" width="2" height="6.2" fill="#ed4c5c" />
<rect x="802" y="900" width="2" height="10" fill="#ed4c5c" />
<rect x="820" y="905.7" width="2" height="4.3" fill="#ed4c5c" />
<rect x="838" y="908" width="2" height="5.7" fill="#52b886" />
<rect x="856" y="908" width="2" height="13.6" fill="#52b886" />
<rect x="874" y="908" width="2" height="23.8" fill="#52b886" />
<rect x="892" y="908" width="2" height="29.4" fill="#52b886" />
<rect x="910" y="908" width="2" height="33.7" fill="#52b886" />
<rect x="928" y="908" width="2" height="37.4" fill="#52b886" />
<rect x="946" y="908" width="2" height="39.6" fill="#52b886" />
<rect x="964" y="908" width="2" height="37.4" fill="#52b886" />
<rect x="982" y="908" width="2" height="35.7" fill="#52b886" />
<rect x="1000" y="908" width="2" height="27.5" fill="#52b886" />
<rect x="1018" y="908" width="2" height="27.5" fill="#52b886" />
<rect x="1036" y="908" width="2" height="31.7" fill="#52b886" />
<rect x="1054" y="908" width="2" height="35.7" fill="#52b886" />
<rect x="1072" y="908" width="2" height="37.4" fill="#52b886" />
<rect x="1090" y="908" width="2" height="33.7" fill="#52b886" />
<rect x="1108" y="908" width="2" height="33.7" fill="#52b886" />
<rect x="1126" y="908" width="2" height="19.8" fill="#52b886" />
<rect x="1144" y="908" width="2" height="2.5" fill="#52b886" />
<rect x="1162" y="897.8" width="2" height="12.2" fill="#ed4c5c" />
<rect x="1180" y="891.9" width="2" height="18.1" fill="#ed4c5c" />
<rect x="1198" y="889.9" width="2" height="20.1" fill="#ed4c5c" />
<rect x="1216" y="886" width="2" height="24" fill="#ed4c5c" />
<rect x="1234" y="884" width="2" height="26" fill="#ed4c5c" />
<rect x="1252" y="871.8" width="2" height="38.2" fill="#ed4c5c" />
<rect x="1270" y="870" width="2" height="40" fill="#ed4c5c" />
<rect x="1288" y="870" width="2" height="40" fill="#ed4c5c" />
<rect x="1306" y="870" width="2" height="40" fill="#ed4c5c" />
<rect x="1324" y="876" width="2" height="34" fill="#ed4c5c" />
<rect x="1342" y="879.7" width="2" height="30.3" fill="#ed4c5c" />
<rect x="1360" y="882" width="2" height="28" fill="#ed4c5c" />
<rect x="1378" y="886" width="2" height="24" fill="#ed4c5c" />
<rect x="1396" y="891.9" width="2" height="18.1" fill="#ed4c5c" />
<rect x="1414" y="908" width="2" height="7.6" fill="#52b886" />
<rect x="1432" y="908" width="2" height="23.8" fill="#52b886" />
<rect x="1450" y="908" width="2" height="31.7" fill="#52b886" />
<rect x="1468" y="908" width="2" height="37.4" fill="#52b886" />
<rect x="1486" y="908" width="2" height="43.6" fill="#52b886" />
<rect x="1504" y="908" width="2" height="45.8" fill="#52b886" />
<rect x="1522" y="908" width="2" height="41.6" fill="#52b886" />
<rect x="1540" y="908" width="2" height="35.7" fill="#52b886" />
<rect x="1558" y="908" width="2" height="29.4" fill="#52b886" />
<rect x="1576" y="908" width="2" height="23.8" fill="#52b886" />
<rect x="1594" y="908" width="2" height="23.8" fill="#52b886" />
<rect x="1612" y="908" width="2" height="13.6" fill="#52b886" />
<rect x="1630" y="908" width="2" height="11.6" fill="#52b886" />
<rect x="1648" y="908" width="2" height="9.6" fill="#52b886" />
<rect x="1666" y="908" width="2" height="13.6" fill="#52b886" />
<rect x="1684" y="908" width="2" height="4" fill="#52b886" />
<rect x="1702" y="895.8" width="2" height="14.2" fill="#ed4c5c" />
<rect x="1720" y="889.9" width="2" height="20.1" fill="#ed4c5c" />
<rect x="1738" y="884" width="2" height="26" fill="#ed4c5c" />
<rect x="1756" y="879.7" width="2" height="30.3" fill="#ed4c5c" />
<rect x="1774" y="884" width="2" height="26" fill="#ed4c5c" />
<rect x="1792" y="884" width="2" height="26" fill="#ed4c5c" />
<rect x="1810" y="886" width="2" height="24" fill="#ed4c5c" />
<path d="M190 908h8v2h-8zM198 910h22v2h-22zM220 908h12v2h-12zM232 906h12v2h-12zM244 904h12v2h-12zM256 902h14v2h-14zM270 900h14v2h-14zM284 898h10v2h-10zM294 896h8v2h-8zM302 894h6v2h-6zM308 892h8v2h-8zM316 890h4v2h-4zM320 888h2v2h-2zM322 886h4v2h-4zM326 884h2v2h-2zM328 882h4v2h-4zM332 880h2v2h-2zM334 878h8v2h-8zM342 876h6v2h-6zM348 874h6v2h-6zM354 872h4v2h-4zM358 870h6v2h-6zM364 868h4v2h-4zM368 866h6v2h-6zM374 864h8v2h-8zM382 862h8v2h-8zM390 860h6v2h-6zM396 858h6v2h-6zM402 856h6v2h-6zM408 854h70v2h-70zM478 856h2v2h-2zM480 854h26v2h-26zM506 856h8v2h-8zM514 858h16v2h-16zM530 860h6v2h-6zM536 862h4v2h-4zM540 864h6v2h-6zM546 866h4v2h-4zM550 868h8v2h-8zM558 870h10v2h-10zM568 872h6v2h-6zM574 874h6v2h-6zM580 876h6v2h-6zM586 878h8v2h-8zM594 880h8v2h-8zM602 882h30v2h-30zM632 884h12v2h-12zM644 886h10v2h-10zM654 888h46v2h-46zM700 890h8v2h-8zM708 892h30v2h-30zM738 890h14v2h-14zM752 888h12v2h-12zM764 886h14v2h-14zM778 884h14v2h-14zM792 882h24v2h-24zM816 884h10v2h-10zM826 886h8v2h-8zM834 888h8v2h-8zM842 890h6v2h-6zM848 892h8v2h-8zM856 894h6v2h-6zM862 896h6v2h-6zM868 898h6v2h-6zM874 900h6v2h-6zM880 902h6v2h-6zM886 904h8v2h-8zM894 906h6v2h-6zM900 908h6v2h-6zM906 910h6v2h-6zM912 912h6v2h-6zM918 914h6v2h-6zM924 916h6v2h-6zM930 918h6v2h-6zM936 920h6v2h-6zM942 922h4v2h-4zM946 924h10v2h-10zM956 926h8v2h-8zM964 928h12v2h-12zM976 930h28v2h-28zM1004 932h8v2h-8zM1012 934h8v2h-8zM1020 936h8v2h-8zM1028 938h6v2h-6zM1034 940h6v2h-6zM1040 942h6v2h-6zM1046 944h6v2h-6zM1052 946h8v2h-8zM1060 948h8v2h-8zM1068 950h10v2h-10zM1078 952h8v2h-8zM1086 954h34v2h-34zM1120 952h10v2h-10zM1130 950h4v2h-4zM1134 948h4v2h-4zM1138 946h6v2h-6zM1144 944h4v2h-4zM1148 942h4v2h-4zM1152 940h4v2h-4zM1156 938h4v2h-4zM1160 936h4v2h-4zM1164 934h10v2h-10zM1174 932h10v2h-10zM1184 930h8v2h-8zM1192 928h8v2h-8zM1200 926h8v2h-8zM1208 924h10v2h-10zM1218 922h8v2h-8zM1226 920h8v2h-8zM1234 918h4v2h-4zM1238 916h4v2h-4zM1242 914h4v2h-4zM1246 912h4v2h-4zM1250 910h4v2h-4zM1254 908h6v2h-6zM1260 906h6v2h-6zM1266 904h6v2h-6zM1272 902h8v2h-8zM1280 900h10v2h-10zM1290 898h10v2h-10zM1300 896h10v2h-10zM1310 894h18v2h-18zM1328 892h20v2h-20zM1348 890h18v2h-18zM1366 888h26v2h-26zM1392 890h8v2h-8zM1400 892h2v2h-2zM1402 894h4v2h-4zM1406 896h2v2h-2zM1408 898h4v2h-4zM1412 900h2v2h-2zM1414 902h4v2h-4zM1418 904h4v2h-4zM1422 906h4v2h-4zM1426 908h4v2h-4zM1430 910h2v2h-2zM1432 912h6v2h-6zM1438 914h4v2h-4zM1442 916h4v2h-4zM1446 918h6v2h-6zM1452 920h4v2h-4zM1456 922h4v2h-4zM1460 924h4v2h-4zM1464 926h6v2h-6zM1470 928h4v2h-4zM1474 930h4v2h-4zM1478 932h4v2h-4zM1482 934h4v2h-4zM1486 936h4v2h-4zM1490 938h6v2h-6zM1496 940h8v2h-8zM1504 942h6v2h-6zM1510 944h8v2h-8zM1518 946h32v2h-32zM1550 948h18v2h-18zM1568 946h14v2h-14zM1582 948h8v2h-8zM1590 950h10v2h-10zM1600 948h8v2h-8zM1608 946h46v2h-46zM1654 948h8v2h-8zM1662 950h8v2h-8zM1670 948h6v2h-6zM1676 946h8v2h-8zM1684 944h4v2h-4zM1688 942h4v2h-4zM1692 940h2v2h-2zM1694 938h4v2h-4zM1698 936h4v2h-4zM1702 934h8v2h-8zM1710 932h8v2h-8zM1718 930h6v2h-6zM1724 928h6v2h-6zM1730 926h6v2h-6zM1736 924h6v2h-6zM1742 922h6v2h-6zM1748 920h6v2h-6zM1754 918h26v2h-26zM1780 916h8v2h-8zM1788 914h12v2h-12zM1800 912h12v2h-12z" fill="#f4f4f4" />
<path d="M190 906h36v2h-36zM226 908h20v2h-20zM246 906h28v2h-28zM274 904h20v2h-20zM294 902h12v2h-12zM306 900h12v2h-12zM318 898h10v2h-10zM328 896h10v2h-10zM338 894h10v2h-10zM348 892h8v2h-8zM356 890h6v2h-6zM362 888h6v2h-6zM368 886h8v2h-8zM376 884h8v2h-8zM384 882h6v2h-6zM390 880h8v2h-8zM398 878h6v2h-6zM404 876h6v2h-6zM410 874h8v2h-8zM418 872h6v2h-6zM424 870h12v2h-12zM436 868h14v2h-14zM450 866h18v2h-18zM468 864h16v2h-16zM484 862h16v2h-16zM500 860h48v2h-48zM548 862h16v2h-16zM564 864h16v2h-16zM580 866h14v2h-14zM594 868h10v2h-10zM604 870h16v2h-16zM620 872h16v2h-16zM636 874h12v2h-12zM648 876h10v2h-10zM658 878h16v2h-16zM674 880h16v2h-16zM690 882h14v2h-14zM704 884h14v2h-14zM718 886h94v2h-94zM812 884h18v2h-18zM830 886h34v2h-34zM864 888h10v2h-10zM874 890h12v2h-12zM886 892h12v2h-12zM898 894h8v2h-8zM906 896h8v2h-8zM914 898h8v2h-8zM922 900h6v2h-6zM928 902h10v2h-10zM938 904h10v2h-10zM948 906h8v2h-8zM956 908h8v2h-8zM964 910h10v2h-10zM974 912h8v2h-8zM982 914h8v2h-8zM990 916h8v2h-8zM998 918h12v2h-12zM1010 920h12v2h-12zM1022 922h10v2h-10zM1032 924h10v2h-10zM1042 926h8v2h-8zM1050 928h8v2h-8zM1058 930h8v2h-8zM1066 932h8v2h-8zM1074 934h8v2h-8zM1082 936h8v2h-8zM1090 938h8v2h-8zM1098 940h8v2h-8zM1106 942h12v2h-12zM1118 944h36v2h-36zM1154 942h18v2h-18zM1172 940h18v2h-18zM1190 938h14v2h-14zM1204 936h10v2h-10zM1214 934h12v2h-12zM1226 932h10v2h-10zM1236 930h8v2h-8zM1244 928h6v2h-6zM1250 926h8v2h-8zM1258 924h8v2h-8zM1266 922h8v2h-8zM1274 920h8v2h-8zM1282 918h10v2h-10zM1292 916h10v2h-10zM1302 914h8v2h-8zM1310 912h10v2h-10zM1320 910h10v2h-10zM1330 908h10v2h-10zM1340 906h8v2h-8zM1348 904h10v2h-10zM1358 902h12v2h-12zM1370 900h14v2h-14zM1384 898h26v2h-26zM1410 900h16v2h-16zM1426 902h14v2h-14zM1440 904h12v2h-12zM1452 906h8v2h-8zM1460 908h6v2h-6zM1466 910h8v2h-8zM1474 912h8v2h-8zM1482 914h8v2h-8zM1490 916h8v2h-8zM1498 918h8v2h-8zM1506 920h4v2h-4zM1510 922h6v2h-6zM1516 924h4v2h-4zM1520 926h8v2h-8zM1528 928h8v2h-8zM1536 930h8v2h-8zM1544 932h10v2h-10zM1554 934h14v2h-14zM1568 936h18v2h-18zM1586 938h18v2h-18zM1604 940h18v2h-18zM1622 942h36v2h-36zM1658 944h36v2h-36zM1694 942h18v2h-18zM1712 940h14v2h-14zM1726 938h8v2h-8zM1734 936h14v2h-14zM1748 934h14v2h-14zM1762 932h10v2h-10zM1772 930h8v2h-8zM1780 928h8v2h-8zM1788 926h14v2h-14zM1802 924h10v2h-10z" fill="#f0f018" />
<path d="M190 1038h6v2h-6zM196 1040h10v2h-10zM206 1042h6v2h-6zM212 1040h6v2h-6zM218 1038h6v2h-6zM224 1036h4v2h-4zM228 1034h4v2h-4zM232 1032h4v2h-4zM236 1030h4v2h-4zM240 1028h2v2h-2zM242 1026h4v2h-4zM246 1024h4v2h-4zM250 1022h4v2h-4zM254 1020h4v2h-4zM258 1018h4v2h-4zM262 1016h2v2h-2zM264 1018h4v2h-4zM268 1020h4v2h-4zM272 1022h4v2h-4zM276 1024h4v2h-4zM280 1026h2v2h-2zM282 1024h6v2h-6zM288 1022h4v2h-4zM292 1020h4v2h-4zM296 1018h6v2h-6zM302 1016h6v2h-6zM308 1014h6v2h-6zM314 1012h4v2h-4zM318 1010h4v2h-4zM322 1008h2v2h-2zM324 1006h4v2h-4zM328 1004h2v2h-2zM330 1002h4v2h-4zM334 1000h2v2h-2zM336 1002h4v2h-4zM340 1004h4v2h-4zM344 1006h4v2h-4zM348 1008h4v2h-4zM352 1010h4v2h-4zM356 1008h6v2h-6zM362 1006h6v2h-6zM368 1004h6v2h-6zM374 1006h4v2h-4zM378 1008h4v2h-4zM382 1010h6v2h-6zM388 1012h4v2h-4zM392 1010h6v2h-6zM398 1008h6v2h-6zM404 1006h8v2h-8zM412 1008h10v2h-10zM422 1010h6v2h-6zM428 1012h6v2h-6zM434 1014h8v2h-8zM442 1016h42v2h-42zM484 1014h18v2h-18zM502 1016h6v2h-6zM508 1018h6v2h-6zM514 1020h6v2h-6zM520 1022h6v2h-6zM526 1024h4v2h-4zM530 1026h6v2h-6zM536 1028h4v2h-4zM540 1030h4v2h-4zM544 1032h6v2h-6zM550 1034h8v2h-8zM558 1032h14v2h-14zM572 1034h6v2h-6zM578 1036h6v2h-6zM584 1038h6v2h-6zM590 1036h6v2h-6zM596 1034h6v2h-6zM602 1032h6v2h-6zM608 1030h10v2h-10zM618 1028h16v2h-16zM634 1030h10v2h-10zM644 1032h6v2h-6zM650 1034h6v2h-6zM656 1036h8v2h-8zM664 1034h8v2h-8zM672 1032h8v2h-8zM680 1030h10v2h-10zM690 1028h8v2h-8zM698 1030h2v2h-2zM700 1032h4v2h-4zM704 1034h4v2h-4zM708 1036h4v2h-4zM712 1038h4v2h-4zM716 1036h6v2h-6zM722 1034h6v2h-6zM728 1032h4v2h-4zM732 1030h6v2h-6zM738 1028h4v2h-4zM742 1026h4v2h-4zM746 1024h6v2h-6zM752 1022h6v2h-6zM758 1020h4v2h-4zM762 1018h10v2h-10zM772 1020h10v2h-10zM782 1022h6v2h-6zM788 1020h10v2h-10zM798 1018h6v2h-6zM804 1020h4v2h-4zM808 1022h2v2h-2zM810 1024h2v2h-2zM812 1026h2v2h-2zM814 1028h4v2h-4zM818 1030h2v2h-2zM820 1032h6v2h-6zM826 1034h8v2h-8zM834 1036h8v2h-8zM842 1038h6v2h-6zM848 1040h6v2h-6zM854 1042h6v2h-6zM860 1044h6v2h-6zM866 1046h6v2h-6zM872 1048h14v2h-14zM886 1050h18v2h-18zM904 1052h12v2h-12zM916 1054h10v2h-10zM926 1056h12v2h-12zM938 1058h18v2h-18zM956 1056h28v2h-28zM984 1054h4v2h-4zM988 1052h4v2h-4zM992 1050h4v2h-4zM996 1048h4v2h-4zM1000 1046h2v2h-2zM1002 1048h4v2h-4zM1006 1050h4v2h-4zM1010 1052h4v2h-4zM1014 1054h4v2h-4zM1018 1056h4v2h-4zM1022 1058h8v2h-8zM1030 1060h6v2h-6zM1036 1062h14v2h-14zM1050 1064h60v2h-60zM1110 1062h2v2h-2zM1112 1060h2v2h-2zM1114 1058h2v2h-2zM1116 1054h2v4h-2zM1118 1052h2v2h-2zM1120 1050h2v2h-2zM1122 1048h2v2h-2zM1124 1046h2v2h-2zM1126 1044h2v2h-2zM1128 1042h4v2h-4zM1132 1040h4v2h-4zM1136 1038h4v2h-4zM1140 1036h2v2h-2zM1142 1034h26v2h-26zM1168 1036h8v2h-8zM1176 1038h28v2h-28zM1204 1036h8v2h-8zM1212 1034h12v2h-12zM1224 1032h12v2h-12zM1236 1030h2v2h-2zM1238 1028h4v2h-4zM1242 1026h2v2h-2zM1244 1024h2v2h-2zM1246 1022h2v2h-2zM1248 1020h4v2h-4zM1252 1018h4v2h-4zM1256 1020h4v2h-4zM1260 1022h4v2h-4zM1264 1024h6v2h-6zM1270 1026h8v2h-8zM1278 1024h18v2h-18zM1296 1022h14v2h-14zM1310 1024h4v2h-4zM1314 1026h4v2h-4zM1318 1028h6v2h-6zM1324 1030h8v2h-8zM1332 1028h14v2h-14zM1346 1026h10v2h-10zM1356 1024h10v2h-10zM1366 1026h10v2h-10zM1376 1028h14v2h-14zM1390 1030h8v2h-8zM1398 1032h2v2h-2zM1400 1034h2v4h-2zM1402 1038h2v2h-2zM1404 1040h2v2h-2zM1406 1042h2v4h-2zM1408 1046h2v2h-2zM1410 1048h2v2h-2zM1412 1050h2v4h-2zM1414 1054h12v2h-12zM1426 1056h30v2h-30zM1456 1058h10v2h-10zM1466 1060h14v2h-14zM1480 1062h46v2h-46zM1526 1060h6v2h-6zM1532 1058h6v2h-6zM1538 1056h42v2h-42zM1580 1058h6v2h-6zM1586 1060h6v2h-6zM1592 1062h4v2h-4zM1596 1060h2v2h-2zM1598 1058h2v2h-2zM1600 1056h2v2h-2zM1602 1054h2v2h-2zM1604 1052h4v2h-4zM1608 1050h2v2h-2zM1610 1048h2v2h-2zM1612 1046h4v2h-4zM1616 1048h4v2h-4zM1620 1050h4v2h-4zM1624 1052h6v2h-6zM1630 1054h22v2h-22zM1652 1056h6v2h-6zM1658 1058h6v2h-6zM1664 1060h4v2h-4zM1668 1058h2v2h-2zM1670 1056h2v2h-2zM1672 1054h2v2h-2zM1674 1052h2v2h-2zM1676 1050h2v2h-2zM1678 1048h2v2h-2zM1680 1046h2v2h-2zM1682 1044h2v2h-2zM1684 1042h2v2h-2zM1686 1040h4v2h-4zM1690 1038h4v2h-4zM1694 1036h4v2h-4zM1698 1034h2v2h-2zM1700 1032h8v2h-8zM1708 1034h8v2h-8zM1716 1036h8v2h-8zM1724 1034h6v2h-6zM1730 1032h6v2h-6zM1736 1030h24v2h-24zM1760 1032h4v2h-4zM1764 1034h4v2h-4zM1768 1036h4v2h-4zM1772 1038h8v2h-8zM1780 1036h8v2h-8zM1788 1034h16v2h-16zM1804 1036h8v2h-8z" fill="#e930e9" />
<path d="M190 1232h6v2h-6zM196 1234h8v2h-8zM204 1236h8v2h-8zM212 1234h4v2h-4zM216 1232h4v2h-4zM220 1230h4v2h-4zM224 1228h4v2h-4zM228 1224h2v4h-2zM230 1222h2v2h-2zM232 1220h2v2h-2zM234 1216h2v4h-2zM236 1214h2v2h-2zM238 1212h2v2h-2zM240 1208h2v4h-2zM242 1206h2v2h-2zM244 1204h4v2h-4zM248 1206h2v2h-2zM250 1208h4v2h-4zM254 1210h4v2h-4zM258 1212h4v2h-4zM262 1214h2v2h-2zM264 1212h4v2h-4zM268 1210h4v2h-4zM272 1208h4v2h-4zM276 1206h2v2h-2zM278 1204h6v2h-6zM284 1206h2v2h-2zM286 1208h4v2h-4zM290 1210h4v2h-4zM294 1212h2v2h-2zM296 1214h20v2h-20zM316 1212h2v4h-2zM318 1206h2v6h-2zM320 1198h2v8h-2zM322 1192h2v6h-2zM324 1186h2v6h-2zM326 1178h2v8h-2zM328 1172h2v6h-2zM330 1164h2v8h-2zM332 1158h2v6h-2zM334 1154h2v4h-2zM336 1158h2v4h-2zM338 1162h2v6h-2zM340 1168h2v6h-2zM342 1174h2v6h-2zM344 1180h2v6h-2zM346 1186h2v4h-2zM348 1190h2v6h-2zM350 1196h2v6h-2zM352 1202h2v4h-2zM354 1204h36v2h-36zM390 1202h2v2h-2zM392 1200h2v2h-2zM394 1198h2v2h-2zM396 1196h2v2h-2zM398 1194h2v2h-2zM400 1192h2v2h-2zM402 1190h2v2h-2zM404 1188h2v2h-2zM406 1186h2v2h-2zM408 1188h2v4h-2zM410 1192h2v2h-2zM412 1194h2v4h-2zM414 1198h2v4h-2zM416 1202h2v4h-2zM418 1206h2v4h-2zM420 1210h2v2h-2zM422 1212h2v4h-2zM424 1216h2v4h-2zM426 1216h2v2h-2zM428 1214h4v2h-4zM432 1212h2v2h-2zM434 1210h2v2h-2zM436 1208h2v2h-2zM438 1206h4v2h-4zM442 1204h4v2h-4zM446 1206h2v2h-2zM448 1208h4v2h-4zM452 1210h4v2h-4zM456 1212h2v2h-2zM458 1214h22v2h-22zM480 1212h2v2h-2zM482 1208h2v4h-2zM484 1206h2v2h-2zM486 1204h2v2h-2zM488 1200h2v4h-2zM490 1198h2v2h-2zM492 1196h2v2h-2zM494 1192h2v4h-2zM496 1190h4v2h-4zM500 1192h4v2h-4zM504 1194h4v2h-4zM508 1196h2v2h-2zM510 1198h4v2h-4zM514 1200h4v2h-4zM518 1202h4v2h-4zM522 1204h6v2h-6zM528 1206h4v2h-4zM532 1208h4v2h-4zM536 1210h6v2h-6zM542 1212h6v2h-6zM548 1214h4v2h-4zM552 1216h4v2h-4zM556 1218h2v2h-2zM558 1220h2v2h-2zM560 1222h2v2h-2zM562 1224h4v2h-4zM566 1226h2v2h-2zM568 1228h2v2h-2zM570 1226h2v2h-2zM572 1224h4v2h-4zM576 1222h2v2h-2zM578 1220h2v2h-2zM580 1218h2v2h-2zM582 1216h4v2h-4zM586 1214h6v2h-6zM592 1216h10v2h-10zM602 1218h6v2h-6zM608 1216h10v2h-10zM618 1214h6v2h-6zM624 1216h2v2h-2zM626 1218h2v4h-2zM628 1222h2v2h-2zM630 1224h2v4h-2zM632 1228h2v2h-2zM634 1230h2v4h-2zM636 1234h2v2h-2zM638 1236h2v4h-2zM640 1240h2v2h-2zM642 1238h2v2h-2zM644 1236h2v2h-2zM646 1234h2v2h-2zM648 1230h2v4h-2zM650 1228h2v2h-2zM652 1226h2v2h-2zM654 1222h2v4h-2zM656 1220h2v2h-2zM658 1218h4v2h-4zM662 1220h4v2h-4zM666 1222h4v2h-4zM670 1224h4v2h-4zM674 1226h6v2h-6zM680 1224h4v2h-4zM684 1222h4v2h-4zM688 1220h4v2h-4zM692 1218h4v2h-4zM696 1212h2v6h-2zM698 1208h2v4h-2zM700 1204h2v4h-2zM702 1200h2v4h-2zM704 1194h2v6h-2zM706 1190h2v4h-2zM708 1186h2v4h-2zM710 1182h2v4h-2zM712 1178h2v4h-2zM714 1180h2v2h-2zM716 1182h4v2h-4zM720 1184h2v2h-2zM722 1186h2v2h-2zM724 1188h2v2h-2zM726 1190h2v2h-2zM728 1192h2v2h-2zM730 1194h4v2h-4zM734 1196h2v2h-2zM736 1198h4v2h-4zM740 1200h4v2h-4zM744 1202h4v2h-4zM748 1204h2v2h-2zM750 1202h4v2h-4zM754 1200h6v2h-6zM760 1198h4v2h-4zM764 1196h4v2h-4zM768 1198h2v2h-2zM770 1200h2v2h-2zM772 1202h2v2h-2zM774 1204h2v4h-2zM776 1208h2v2h-2zM778 1210h2v2h-2zM780 1212h2v2h-2zM782 1214h2v4h-2zM784 1218h2v2h-2zM786 1214h2v4h-2zM788 1210h2v4h-2zM790 1206h2v4h-2zM792 1202h2v4h-2zM794 1198h2v4h-2zM796 1194h2v4h-2zM798 1190h2v4h-2zM800 1186h2v4h-2zM802 1182h2v4h-2zM804 1184h4v2h-4zM808 1186h4v2h-4zM812 1188h2v2h-2zM814 1190h4v2h-4zM818 1192h2v2h-2zM820 1194h4v2h-4zM824 1196h6v2h-6zM830 1198h6v2h-6zM836 1200h6v2h-6zM842 1198h8v2h-8zM850 1196h10v2h-10zM860 1198h2v2h-2zM862 1200h2v2h-2zM864 1202h2v2h-2zM866 1204h2v2h-2zM868 1206h4v2h-4zM872 1208h2v2h-2zM874 1210h2v2h-2zM876 1212h2v2h-2zM878 1214h2v2h-2zM880 1216h2v2h-2zM882 1218h2v2h-2zM884 1220h2v2h-2zM886 1222h2v2h-2zM888 1224h2v2h-2zM890 1226h2v2h-2zM892 1228h2v2h-2zM894 1226h4v2h-4zM898 1224h4v2h-4zM902 1222h4v2h-4zM906 1220h4v2h-4zM910 1218h2v2h-2zM912 1216h4v2h-4zM916 1214h4v2h-4zM920 1212h4v2h-4zM924 1210h4v2h-4zM928 1208h8v2h-8zM936 1206h6v2h-6zM942 1204h8v2h-8zM950 1206h6v2h-6zM956 1208h6v2h-6zM962 1210h22v2h-22zM984 1208h2v2h-2zM986 1206h2v2h-2zM988 1204h2v2h-2zM990 1202h2v2h-2zM992 1200h4v2h-4zM996 1198h2v2h-2zM998 1196h2v2h-2zM1000 1194h2v2h-2zM1002 1190h2v4h-2zM1004 1188h2v2h-2zM1006 1184h2v4h-2zM1008 1182h2v2h-2zM1010 1180h2v2h-2zM1012 1176h2v4h-2zM1014 1174h2v2h-2zM1016 1170h2v4h-2zM1018 1168h2v2h-2zM1020 1170h2v4h-2zM1022 1174h2v2h-2zM1024 1176h2v4h-2zM1026 1180h2v4h-2zM1028 1184h2v4h-2zM1030 1188h2v4h-2zM1032 1192h2v2h-2zM1034 1194h2v4h-2zM1036 1198h2v4h-2zM1038 1198h4v2h-4zM1042 1196h4v2h-4zM1046 1194h4v2h-4zM1050 1192h4v2h-4zM1054 1190h2v2h-2zM1056 1192h2v6h-2zM1058 1198h2v4h-2zM1060 1202h2v6h-2zM1062 1208h2v4h-2zM1064 1212h2v4h-2zM1066 1216h2v6h-2zM1068 1222h2v4h-2zM1070 1226h2v4h-2zM1072 1230h2v4h-2zM1074 1226h2v6h-2zM1076 1220h2v6h-2zM1078 1214h2v6h-2zM1080 1208h2v6h-2zM1082 1202h2v6h-2zM1084 1198h2v4h-2zM1086 1192h2v6h-2zM1088 1186h2v6h-2zM1090 1182h2v4h-2zM1092 1182h20v2h-20zM1112 1180h6v2h-6zM1118 1178h6v2h-6zM1124 1176h12v2h-12zM1136 1178h10v2h-10zM1146 1180h2v2h-2zM1148 1182h2v4h-2zM1150 1186h2v2h-2zM1152 1188h2v4h-2zM1154 1192h2v2h-2zM1156 1194h2v4h-2zM1158 1198h2v2h-2zM1160 1200h2v2h-2zM1162 1202h2v4h-2zM1164 1204h2v2h-2zM1166 1206h6v2h-6zM1172 1208h6v2h-6zM1178 1210h4v2h-4zM1182 1208h4v2h-4zM1186 1206h2v2h-2zM1188 1204h2v2h-2zM1190 1202h4v2h-4zM1194 1200h2v2h-2zM1196 1198h4v2h-4zM1200 1200h2v2h-2zM1202 1202h2v2h-2zM1204 1204h2v4h-2zM1206 1208h2v2h-2zM1208 1210h2v4h-2zM1210 1214h2v2h-2zM1212 1216h2v2h-2zM1214 1218h2v4h-2zM1216 1222h6v2h-6zM1222 1220h8v2h-8zM1230 1218h4v2h-4zM1234 1216h2v4h-2zM1236 1208h2v8h-2zM1238 1200h2v8h-2zM1240 1194h2v6h-2zM1242 1186h2v8h-2zM1244 1178h2v8h-2zM1246 1170h2v8h-2zM1248 1162h2v8h-2zM1250 1156h2v6h-2zM1252 1150h2v6h-2zM1254 1154h2v4h-2zM1256 1158h2v6h-2zM1258 1164h2v6h-2zM1260 1170h2v6h-2zM1262 1176h2v6h-2zM1264 1182h2v4h-2zM1266 1186h2v6h-2zM1268 1192h2v6h-2zM1270 1198h2v4h-2zM1272 1200h4v2h-4zM1276 1202h10v2h-10zM1286 1204h4v2h-4zM1290 1206h2v2h-2zM1292 1208h2v2h-2zM1294 1210h2v2h-2zM1296 1212h2v2h-2zM1298 1214h2v2h-2zM1300 1216h2v2h-2zM1302 1218h2v2h-2zM1304 1220h2v2h-2zM1306 1222h2v2h-2zM1308 1220h2v2h-2zM1310 1218h2v2h-2zM1312 1216h2v2h-2zM1314 1214h2v2h-2zM1316 1212h2v2h-2zM1318 1210h2v2h-2zM1320 1208h2v2h-2zM1322 1206h2v2h-2zM1324 1204h4v2h-4zM1328 1202h10v2h-10zM1338 1200h8v2h-8zM1346 1202h4v2h-4zM1350 1204h4v2h-4zM1354 1206h4v2h-4zM1358 1208h2v2h-2zM1360 1206h2v4h-2zM1362 1198h2v8h-2zM1364 1190h2v8h-2zM1366 1184h2v6h-2zM1368 1176h2v8h-2zM1370 1168h2v8h-2zM1372 1160h2v8h-2zM1374 1152h2v8h-2zM1376 1144h2v8h-2zM1378 1140h2v4h-2zM1380 1142h2v4h-2zM1382 1146h2v4h-2zM1384 1150h2v4h-2zM1386 1154h2v4h-2zM1388 1158h2v4h-2zM1390 1162h2v4h-2zM1392 1166h2v4h-2zM1394 1170h2v4h-2zM1396 1174h2v4h-2zM1398 1166h2v8h-2zM1400 1160h2v6h-2zM1402 1152h2v8h-2zM1404 1146h2v6h-2zM1406 1138h2v8h-2zM1408 1132h2v6h-2zM1410 1124h2v8h-2zM1412 1116h2v8h-2zM1414 1112h2v6h-2zM1416 1118h2v10h-2zM1418 1128h2v10h-2zM1420 1138h2v8h-2zM1422 1146h2v10h-2zM1424 1156h2v10h-2zM1426 1166h2v10h-2zM1428 1176h2v10h-2zM1430 1186h2v10h-2zM1432 1196h2v6h-2zM1434 1202h2v2h-2zM1436 1204h4v2h-4zM1440 1206h2v2h-2zM1442 1208h2v2h-2zM1444 1210h4v2h-4zM1448 1212h2v2h-2zM1450 1214h4v2h-4zM1454 1212h6v2h-6zM1460 1210h6v2h-6zM1466 1208h6v2h-6zM1472 1206h4v2h-4zM1476 1204h4v2h-4zM1480 1202h4v2h-4zM1484 1200h4v2h-4zM1488 1202h2v4h-2zM1490 1206h2v4h-2zM1492 1210h2v4h-2zM1494 1214h2v4h-2zM1496 1218h2v4h-2zM1498 1222h2v4h-2zM1500 1226h2v4h-2zM1502 1230h2v4h-2zM1504 1234h2v4h-2zM1506 1236h18v2h-18zM1524 1232h2v4h-2zM1526 1228h2v4h-2zM1528 1224h2v4h-2zM1530 1220h2v4h-2zM1532 1216h2v4h-2zM1534 1212h2v4h-2zM1536 1208h2v4h-2zM1538 1204h2v4h-2zM1540 1200h2v4h-2zM1542 1202h2v4h-2zM1544 1206h2v2h-2zM1546 1208h2v4h-2zM1548 1212h2v2h-2zM1550 1214h2v4h-2zM1552 1218h2v2h-2zM1554 1220h2v4h-2zM1556 1224h2v2h-2zM1558 1226h2v4h-2zM1560 1226h2v2h-2zM1562 1224h2v2h-2zM1564 1222h2v2h-2zM1566 1220h2v2h-2zM1568 1218h2v2h-2zM1570 1216h2v2h-2zM1572 1214h2v2h-2zM1574 1212h2v2h-2zM1576 1210h20v2h-20zM1596 1208h2v2h-2zM1598 1206h2v2h-2zM1600 1204h2v2h-2zM1602 1202h2v2h-2zM1604 1200h4v2h-4zM1608 1198h2v2h-2zM1610 1196h2v2h-2zM1612 1194h4v2h-4zM1616 1196h2v2h-2zM1618 1198h4v2h-4zM1622 1200h4v2h-4zM1626 1202h4v2h-4zM1630 1204h2v2h-2zM1632 1206h2v2h-2zM1634 1208h2v2h-2zM1636 1210h2v2h-2zM1638 1212h2v2h-2zM1640 1214h2v2h-2zM1642 1216h2v2h-2zM1644 1218h2v2h-2zM1646 1220h2v2h-2zM1648 1222h2v2h-2zM1650 1218h2v4h-2zM1652 1214h2v4h-2zM1654 1212h2v2h-2zM1656 1208h2v4h-2zM1658 1204h2v4h-2zM1660 1200h2v4h-2zM1662 1196h2v4h-2zM1664 1194h2v2h-2zM1666 1190h2v4h-2zM1668 1186h2v4h-2zM1670 1182h2v4h-2zM1672 1180h2v2h-2zM1674 1176h2v4h-2zM1676 1172h2v4h-2zM1678 1170h2v2h-2zM1680 1166h2v4h-2zM1682 1162h2v4h-2zM1684 1160h2v2h-2zM1686 1162h2v4h-2zM1688 1166h2v4h-2zM1690 1170h2v6h-2zM1692 1176h2v4h-2zM1694 1180h2v4h-2zM1696 1184h2v4h-2zM1698 1188h2v6h-2zM1700 1194h2v4h-2zM1702 1198h2v4h-2zM1704 1200h2v2h-2zM1706 1202h4v2h-4zM1710 1204h4v2h-4zM1714 1206h4v2h-4zM1718 1208h22v2h-22zM1740 1210h2v2h-2zM1742 1212h2v4h-2zM1744 1216h2v2h-2zM1746 1218h2v2h-2zM1748 1220h2v4h-2zM1750 1224h2v2h-2zM1752 1226h2v4h-2zM1754 1230h2v2h-2zM1756 1232h2v2h-2zM1758 1230h2v2h-2zM1760 1228h2v2h-2zM1762 1224h2v4h-2zM1764 1222h2v2h-2zM1766 1218h2v4h-2zM1768 1216h2v2h-2zM1770 1214h2v2h-2zM1772 1210h2v4h-2zM1774 1208h10v2h-10zM1784 1210h10v2h-10zM1794 1212h2v2h-2zM1796 1214h2v4h-2zM1798 1218h2v2h-2zM1800 1220h2v2h-2zM1802 1222h2v4h-2zM1804 1226h2v2h-2zM1806 1228h2v2h-2zM1808 1230h2v4h-2zM1810 1234h2v2h-2z" fill="#f4f4f4" />
<path d="M190 1234h28v2h-28zM218 1236h16v2h-16zM234 1234h14v2h-14zM248 1232h24v2h-24zM272 1230h18v2h-18zM290 1228h28v2h-28zM318 1226h6v2h-6zM324 1224h8v2h-8zM332 1222h12v2h-12zM344 1220h16v2h-16zM360 1218h14v2h-14zM374 1216h10v2h-10zM384 1214h8v2h-8zM392 1212h8v2h-8zM400 1210h12v2h-12zM412 1208h20v2h-20zM432 1206h18v2h-18zM450 1204h36v2h-36zM486 1202h88v2h-88zM574 1204h4v2h-4zM578 1206h6v2h-6zM584 1208h34v2h-34zM618 1210h18v2h-18zM636 1212h16v2h-16zM652 1214h36v2h-36zM688 1216h10v2h-10zM698 1214h10v2h-10zM708 1212h82v2h-82zM790 1210h18v2h-18zM808 1208h38v2h-38zM846 1206h36v2h-36zM882 1204h54v2h-54zM936 1202h22v2h-22zM958 1204h18v2h-18zM976 1206h28v2h-28zM1004 1204h8v2h-8zM1012 1202h50v2h-50zM1062 1204h8v2h-8zM1070 1206h10v2h-10zM1080 1204h18v2h-18zM1098 1202h16v2h-16zM1114 1200h16v2h-16zM1130 1198h10v2h-10zM1140 1196h102v2h-102zM1242 1194h22v2h-22zM1264 1196h36v2h-36zM1300 1198h14v2h-14zM1314 1196h22v2h-22zM1336 1198h16v2h-16zM1352 1200h14v2h-14zM1366 1198h8v2h-8zM1374 1196h26v2h-26zM1400 1194h6v2h-6zM1406 1192h6v2h-6zM1412 1190h64v2h-64zM1476 1188h16v2h-16zM1492 1190h6v2h-6zM1498 1192h6v2h-6zM1504 1194h12v2h-12zM1516 1196h36v2h-36zM1552 1198h66v2h-66zM1618 1200h10v2h-10zM1628 1202h10v2h-10zM1638 1204h8v2h-8zM1646 1206h8v2h-8zM1654 1208h8v2h-8zM1662 1210h14v2h-14zM1676 1208h92v2h-92zM1768 1206h44v2h-44z" fill="#f0f018" />
</g>
<text x="174.5" y="50" fill="#f2f2f2" font-size="25.4" text-anchor="end" font-weight="normal" textLength="76" lengthAdjust="spacingAndGlyphs" >0.6449</text>
<text x="1916.5" y="50" fill="#f2f2f2" font-size="25.4" text-anchor="start" font-weight="normal" textLength="76" lengthAdjust="spacingAndGlyphs" >0.6449</text>
<text x="174.5" y="158" fill="#f2f2f2" font-size="25.4" text-anchor="end" font-weight="normal" textLength="76" lengthAdjust="spacingAndGlyphs" >0.6422</text>
<text x="1916.5" y="158" fill="#f2f2f2" font-size="25.4" text-anchor="start" font-weight="normal" textLength="76" lengthAdjust="spacingAndGlyphs" >0.6422</text>
<text x="174.5" y="268" fill="#f2f2f2" font-size="25.4" text-anchor="end" font-weight="normal" textLength="76" lengthAdjust="spacingAndGlyphs" >0.6395</text>
<text x="1916.5" y="268" fill="#f2f2f2" font-size="25.4" text-anchor="start" font-weight="normal" textLength="76" lengthAdjust="spacingAndGlyphs" >0.6395</text>
<text x="174.5" y="378" fill="#f2f2f2" font-size="25.4" text-anchor="end" font-weight="normal" textLength="76" lengthAdjust="spacingAndGlyphs" >0.6367</text>
<text x="1916.5" y="378" fill="#f2f2f2" font-size="25.4" text-anchor="start" font-weight="normal" textLength="76" lengthAdjust="spacingAndGlyphs" >0.6367</text>
<text x="174.5" y="488" fill="#f2f2f2" font-size="25.4" text-anchor="end" font-weight="normal" textLength="76" lengthAdjust="spacingAndGlyphs" >0.6340</text>
<text x="1916.5" y="488" fill="#f2f2f2" font-size="25.4" text-anchor="start" font-weight="normal" textLength="76" lengthAdjust="spacingAndGlyphs" >0.6340</text>
<text x="174.5" y="598" fill="#f2f2f2" font-size="25.4" text-anchor="end" font-weight="normal" textLength="76" lengthAdjust="spacingAndGlyphs" >0.6313</text>
<text x="1916.5" y="598" fill="#f2f2f2" font-size="25.4" text-anchor="start" font-weight="normal" textLength="76" lengthAdjust="spacingAndGlyphs" >0.6313</text>
<text x="174.5" y="708" fill="#f2f2f2" font-size="25.4" text-anchor="end" font-weight="normal" textLength="76" lengthAdjust="spacingAndGlyphs" >0.6286</text>
<text x="1916.5" y="708" fill="#f2f2f2" font-size="25.4" text-anchor="start" font-weight="normal" textLength="76" lengthAdjust="spacingAndGlyphs" >0.6286</text>
<text x="174.5" y="860" fill="#f2f2f2" font-size="25.4" text-anchor="end" font-weight="normal" textLength="76" lengthAdjust="spacingAndGlyphs" >0.0014</text>
<text x="1916.5" y="860" fill="#f2f2f2" font-size="25.4" text-anchor="start" font-weight="normal" textLength="76" lengthAdjust="spacingAndGlyphs" >0.0014</text>
<text x="174.5" y="912" fill="#f2f2f2" font-size="25.4" text-anchor="end" font-weight="normal" textLength="76" lengthAdjust="spacingAndGlyphs" >0.0001</text>
<text x="1916.5" y="912" fill="#f2f2f2" font-size="25.4" text-anchor="start" font-weight="normal" textLength="76" lengthAdjust="spacingAndGlyphs" >0.0001</text>
<text x="174.5" y="1006" fill="#f2f2f2" font-size="25.4" text-anchor="end" font-weight="normal" textLength="90" lengthAdjust="spacingAndGlyphs" >77.0936</text>
<text x="1916.5" y="1006" fill="#f2f2f2" font-size="25.4" text-anchor="start" font-weight="normal" textLength="90" lengthAdjust="spacingAndGlyphs" >77.0936</text>
<text x="174.5" y="1118" fill="#f2f2f2" font-size="25.4" text-anchor="end" font-weight="normal" textLength="76" lengthAdjust="spacingAndGlyphs" >0.0040</text>
<text x="1916.5" y="1118" fill="#f2f2f2" font-size="25.4" text-anchor="start" font-weight="normal" textLength="76" lengthAdjust="spacingAndGlyphs" >0.0040</text>
<text x="174.5" y="1184" fill="#f2f2f2" font-size="25.4" text-anchor="end" font-weight="normal" textLength="76" lengthAdjust="spacingAndGlyphs" >0.0022</text>
<text x="1916.5" y="1184" fill="#f2f2f2" font-size="25.4" text-anchor="start" font-weight="normal" textLength="76" lengthAdjust="spacingAndGlyphs" >0.0022</text>
<g shape-rendering="crispEdges">
<rect x="1910" y="326" width="138" height="36" fill="#ffa632" />
<rect x="1912" y="328" width="134" height="32" fill="#000" />
<rect x="2030" y="310" width="16" height="16" fill="#0a0a0a" />
<path d="M2038,310 L2046,318 L2030,318 Z M2038,318 L2046,326 L2030,326 Z" fill="#ffa632" shape-rendering="auto"/>
</g>
<text x="1916.5" y="352" fill="#f08c28" font-size="25.4" text-anchor="start" font-weight="normal" textLength="76" lengthAdjust="spacingAndGlyphs" >0.6379</text>
<text class="cjk" x="184" y="27.12" fill="#f0f0f0" font-size="24">澳</text>
<text class="cjk" x="207.8" y="27.12" fill="#f0f0f0" font-size="24">元</text>
<text class="cjk" x="231.6" y="27.12" fill="#f0f0f0" font-size="24">美</text>
<text class="cjk" x="255.4" y="27.12" fill="#f0f0f0" font-size="24">元</text>
<text class="cjk" x="281" y="27.12" fill="#ff6a00" font-size="24">【</text>
<text x="306" y="28" fill="#ff6a00" font-size="25.4" text-anchor="start" font-weight="normal" textLength="26" lengthAdjust="spacingAndGlyphs" stroke="#ff6a00" stroke-width="0.6">60</text>
<text class="cjk" x="331" y="27.12" fill="#ff6a00" font-size="24" stroke="#ff6a00" stroke-width="0.5">分</text>
<text class="cjk" x="355" y="27.12" fill="#ff6a00" font-size="24">】</text>
<circle cx="391" cy="23" r="8" fill="none" stroke="#f07800" stroke-width="1.7"/>
<g shape-rendering="crispEdges"><rect x="383" y="22" width="16" height="2" fill="#ff7a00"/><rect x="390" y="15" width="2" height="16" fill="#c0501a"/></g>
<g shape-rendering="crispEdges">
<rect x="416" y="4" width="24" height="26" fill="#8c8c8c" />
<rect x="414" y="4" width="24" height="22" fill="#000080" />
<rect x="416" y="2" width="20" height="26" fill="#000080" />
<rect x="416" y="4" width="20" height="22" fill="#ffffff" />
<rect x="416" y="16" width="2" height="2" fill="#ff0000" />
<rect x="416" y="22" width="2" height="2" fill="#0000ff" />
<rect x="418" y="14" width="2" height="2" fill="#ff0000" />
<rect x="418" y="20" width="2" height="2" fill="#0000ff" />
<rect x="420" y="12" width="2" height="2" fill="#ff0000" />
<rect x="420" y="18" width="2" height="2" fill="#0000ff" />
<rect x="422" y="8" width="2" height="2" fill="#ff0000" />
<rect x="422" y="14" width="2" height="2" fill="#0000ff" />
<rect x="422" y="10" width="2" height="2" fill="#ff0000" />
<rect x="422" y="16" width="2" height="2" fill="#0000ff" />
<rect x="424" y="10" width="2" height="2" fill="#ff0000" />
<rect x="424" y="16" width="2" height="2" fill="#0000ff" />
<rect x="426" y="12" width="2" height="2" fill="#ff0000" />
<rect x="426" y="18" width="2" height="2" fill="#0000ff" />
<rect x="428" y="14" width="2" height="2" fill="#ff0000" />
<rect x="428" y="20" width="2" height="2" fill="#0000ff" />
<rect x="430" y="12" width="2" height="2" fill="#ff0000" />
<rect x="430" y="18" width="2" height="2" fill="#0000ff" />
<rect x="432" y="10" width="2" height="2" fill="#ff0000" />
<rect x="432" y="16" width="2" height="2" fill="#0000ff" />
<rect x="434" y="10" width="2" height="2" fill="#ff0000" />
<rect x="434" y="16" width="2" height="2" fill="#0000ff" />
</g>
<text x="446" y="28" fill="#ececec" font-size="25.4" text-anchor="start" font-weight="normal" textLength="223" lengthAdjust="spacingAndGlyphs" >MA(55,14,200,0,0,0)</text>
<text x="679" y="28" fill="#ececec" font-size="25.4" text-anchor="start" font-weight="normal" textLength="148.5" lengthAdjust="spacingAndGlyphs" >MA55:0.6383</text>
<text x="845.5" y="28" fill="#dcdc1e" font-size="25.4" text-anchor="start" font-weight="normal" textLength="148.5" lengthAdjust="spacingAndGlyphs" >MA14:0.6370</text>
<text x="1011.5" y="28" fill="#e632e6" font-size="25.4" text-anchor="start" font-weight="normal" textLength="162" lengthAdjust="spacingAndGlyphs" >MA200:0.6374</text>
<text x="1191.5" y="28" fill="#2ccd2c" font-size="25.4" text-anchor="start" font-weight="normal" textLength="134" lengthAdjust="spacingAndGlyphs" >MA0:0.6379</text>
<text x="1343" y="28" fill="#828282" font-size="25.4" text-anchor="start" font-weight="normal" textLength="134" lengthAdjust="spacingAndGlyphs" >MA0:0.6379</text>
<text x="1495.5" y="28" fill="#eb3732" font-size="25.4" text-anchor="start" font-weight="normal" textLength="135" lengthAdjust="spacingAndGlyphs" >MA0:0.6379</text>
<g shape-rendering="crispEdges">
<rect x="1782" y="0" width="128" height="32" fill="#050505" />
<rect x="1785" y="3" width="26" height="26" fill="none" stroke="#b9b9b9" stroke-width="2"/>
<rect x="1817" y="3" width="26" height="26" fill="none" stroke="#c8c8c8" stroke-width="2"/>
<rect x="1849" y="3" width="26" height="26" fill="none" stroke="#1e8fe0" stroke-width="2"/>
<rect x="1881" y="3" width="26" height="26" fill="none" stroke="#c8c8c8" stroke-width="2"/>
<rect x="1796" y="6" width="4" height="6" fill="#a8a8a8" />
<rect x="1796" y="20" width="4" height="6" fill="#a8a8a8" />
<rect x="1788" y="14" width="6" height="4" fill="#a8a8a8" />
<rect x="1802" y="14" width="6" height="4" fill="#a8a8a8" />
<rect x="1796" y="14" width="4" height="4" fill="#a8a8a8" />
<rect x="1822" y="6" width="2" height="20" fill="#c8c8c8" />
<rect x="1820" y="8" width="6" height="2" fill="#c8c8c8" />
<rect x="1820" y="22" width="20" height="2" fill="#c8c8c8" />
<rect x="1836" y="20" width="2" height="6" fill="#c8c8c8" />
<rect x="1828" y="8" width="2" height="12" fill="#c8c8c8" />
<rect x="1854" y="6" width="2" height="20" fill="#1e8fe0" />
<rect x="1852" y="8" width="6" height="2" fill="#1e8fe0" />
<rect x="1852" y="22" width="20" height="2" fill="#1e8fe0" />
<rect x="1868" y="20" width="2" height="6" fill="#1e8fe0" />
<rect x="1885" y="7" width="6" height="18" fill="none" stroke="#c8c8c8" stroke-width="2"/>
<rect x="1888" y="14" width="12" height="2" fill="#c8c8c8" />
</g>
<path d="M1831,13 L1836,8.5 L1836,17.5 Z" fill="#b4b4b4"/>
<path d="M1860,8 L1870,15 L1860,22 Z" fill="#1e8fe0"/>
<path d="M1897,10.5 L1902,15 L1897,19.5 Z" fill="#c8c8c8"/>
<text x="185" y="838" fill="#ececec" font-size="25.4" text-anchor="start" font-weight="normal" textLength="319" lengthAdjust="spacingAndGlyphs" >MACD(26,12,9) DIFF:-0.0001</text>
<text x="523" y="838" fill="#dcdc1e" font-size="25.4" text-anchor="start" font-weight="normal" textLength="139" lengthAdjust="spacingAndGlyphs" >DEA:-0.0004</text>
<text x="679" y="838" fill="#e632e6" font-size="25.4" text-anchor="start" font-weight="normal" textLength="155" lengthAdjust="spacingAndGlyphs" >MACD:0.0006</text>
<text x="185" y="984" fill="#ececec" font-size="25.4" text-anchor="start" font-weight="normal" textLength="305" lengthAdjust="spacingAndGlyphs" >RSI(14,14,14) RSI1:51.4152</text>
<text x="507" y="984" fill="#dcdc1e" font-size="25.4" text-anchor="start" font-weight="normal" textLength="146" lengthAdjust="spacingAndGlyphs" >RSI2:51.4152</text>
<text x="670" y="984" fill="#e632e6" font-size="25.4" text-anchor="start" font-weight="normal" textLength="148" lengthAdjust="spacingAndGlyphs" >RSI3:51.4152</text>
<text x="185" y="1096" fill="#ececec" font-size="25.4" text-anchor="start" font-weight="normal" textLength="208" lengthAdjust="spacingAndGlyphs" >ATR(14) TR:0.0005</text>
<text x="411" y="1096" fill="#dcdc1e" font-size="25.4" text-anchor="start" font-weight="normal" textLength="126" lengthAdjust="spacingAndGlyphs" >ATR:0.0013</text>
<g shape-rendering="crispEdges">
<path d="M54,1074h8v2h2v2h2v8h-2v2h-2v2h-8v-2h-2v-2h-2v-8h2v-2h2z" fill="#000"/>
<path d="M54,1076h8v2h2v8h-2v2h-8v-2h-2v-8h2z" fill="#fff"/>
<rect x="54" y="1080" width="8" height="4" fill="#f00" />
<rect x="56" y="1078" width="4" height="8" fill="#f00" />
<rect x="56" y="1068" width="2" height="4" fill="#ff0000" />
<rect x="56" y="1092" width="2" height="4" fill="#ff0000" />
<rect x="44" y="1080" width="4" height="2" fill="#ff0000" />
<rect x="68" y="1080" width="4" height="2" fill="#ff0000" />
<rect x="46" y="1070" width="2" height="2" fill="#ff0000" />
<rect x="48" y="1072" width="2" height="2" fill="#ff0000" />
<rect x="68" y="1070" width="2" height="2" fill="#ff0000" />
<rect x="66" y="1072" width="2" height="2" fill="#ff0000" />
<rect x="48" y="1090" width="2" height="2" fill="#ff0000" />
<rect x="46" y="1092" width="2" height="2" fill="#ff0000" />
<rect x="66" y="1090" width="2" height="2" fill="#ff0000" />
<rect x="68" y="1092" width="2" height="2" fill="#ff0000" />
</g>
<text x="230" y="1268" fill="#f4f4f4" font-size="25.4" text-anchor="start" font-weight="normal" textLength="62" lengthAdjust="spacingAndGlyphs" stroke="#f4f4f4" stroke-width="0.9">04/21</text>
<text x="554" y="1268" fill="#f4f4f4" font-size="25.4" text-anchor="start" font-weight="normal" textLength="62" lengthAdjust="spacingAndGlyphs" stroke="#f4f4f4" stroke-width="0.9">04/22</text>
<text x="986" y="1268" fill="#f4f4f4" font-size="25.4" text-anchor="start" font-weight="normal" textLength="62" lengthAdjust="spacingAndGlyphs" stroke="#f4f4f4" stroke-width="0.9">04/23</text>
<text x="1418" y="1268" fill="#f4f4f4" font-size="25.4" text-anchor="start" font-weight="normal" textLength="62" lengthAdjust="spacingAndGlyphs" stroke="#f4f4f4" stroke-width="0.9">04/24</text>
<text x="68.5" y="1272" fill="#ff6a00" font-size="25.4" text-anchor="start" font-weight="normal" textLength="26" lengthAdjust="spacingAndGlyphs" stroke="#ff6a00" stroke-width="0.7">60</text>
<text class="cjk" x="95" y="1271.62" fill="#ff6a00" font-size="24" stroke="#ff6a00" stroke-width="0.6">分</text>
<path d="M141,1255.5 L150,1272 L132,1272 Z" fill="#ff6a00"/>
<g shape-rendering="crispEdges">
<rect x="40" y="1284" width="274" height="30" fill="#070707" />
<rect x="314" y="1284" width="330" height="6" fill="#212121" />
<rect x="314" y="1290" width="330" height="24" fill="#070707" />
<rect x="644" y="1284" width="403" height="30" fill="#070707" />
<rect x="1047" y="1284" width="715" height="6" fill="#212121" />
<rect x="1047" y="1290" width="715" height="24" fill="#070707" />
<rect x="200" y="1286" width="114" height="26" fill="#ff6a00" />
<rect x="118.5" y="1284" width="2" height="30" fill="#2a2a2a" />
<rect x="198.5" y="1284" width="2" height="30" fill="#2a2a2a" />
<rect x="466" y="1290" width="2" height="24" fill="#242424" />
<rect x="583" y="1290" width="2" height="24" fill="#242424" />
<rect x="1047" y="1290" width="2" height="24" fill="#242424" />
<rect x="1139" y="1290" width="2" height="24" fill="#242424" />
<rect x="1243" y="1290" width="2" height="24" fill="#242424" />
<rect x="1335" y="1290" width="2" height="24" fill="#242424" />
<rect x="1450" y="1290" width="2" height="24" fill="#242424" />
<rect x="1554" y="1290" width="2" height="24" fill="#242424" />
<rect x="1707" y="1290" width="2" height="24" fill="#242424" />
<rect x="698" y="1284" width="2" height="30" fill="#242424" />
<rect x="802" y="1284" width="2" height="30" fill="#242424" />
<rect x="906" y="1284" width="2" height="30" fill="#242424" />
<rect x="38" y="428" width="2" height="856" fill="#222222" />
</g>
<text class="cjk" x="55" y="1307.12" fill="#fff" font-size="24">指</text>
<text class="cjk" x="79" y="1307.12" fill="#fff" font-size="24">标</text>
<text class="cjk" x="135" y="1307.12" fill="#fff" font-size="24">模</text>
<text class="cjk" x="159" y="1307.12" fill="#fff" font-size="24">板</text>
<text class="cjk" x="253" y="1307.12" fill="#fff" font-size="24">指</text>
<text class="cjk" x="277" y="1307.12" fill="#fff" font-size="24">标</text>
<text x="333" y="1306" fill="#b9b9b9" font-size="23.8" style="font-family:'Liberation Serif',serif" stroke="#b9b9b9" stroke-width="0.5" textLength="10" lengthAdjust="spacingAndGlyphs">B</text>
<text x="345" y="1306" fill="#b9b9b9" font-size="23.8" style="font-family:'Liberation Serif',serif" stroke="#b9b9b9" stroke-width="0.5" textLength="10" lengthAdjust="spacingAndGlyphs">A</text>
<text x="357" y="1306" fill="#b9b9b9" font-size="23.8" style="font-family:'Liberation Serif',serif" stroke="#b9b9b9" stroke-width="0.5" textLength="10" lengthAdjust="spacingAndGlyphs">R</text>
<text x="369" y="1306" fill="#b9b9b9" font-size="23.8" style="font-family:'Liberation Serif',serif" stroke="#b9b9b9" stroke-width="0.5" textLength="10" lengthAdjust="spacingAndGlyphs">U</text>
<text x="381" y="1306" fill="#b9b9b9" font-size="23.8" style="font-family:'Liberation Serif',serif" stroke="#b9b9b9" stroke-width="0.5" textLength="10" lengthAdjust="spacingAndGlyphs">P</text>
<text x="393" y="1306" fill="#b9b9b9" font-size="23.8" style="font-family:'Liberation Serif',serif" stroke="#b9b9b9" stroke-width="0.5" textLength="10" lengthAdjust="spacingAndGlyphs">D</text>
<text x="405" y="1306" fill="#b9b9b9" font-size="23.8" style="font-family:'Liberation Serif',serif" stroke="#b9b9b9" stroke-width="0.5" textLength="10" lengthAdjust="spacingAndGlyphs">N</text>
<rect x="417" y="1308" width="10" height="2" fill="#b9b9b9" shape-rendering="crispEdges"/>
<text x="429" y="1306" fill="#b9b9b9" font-size="23.8" style="font-family:'Liberation Serif',serif" stroke="#b9b9b9" stroke-width="0.5" textLength="10" lengthAdjust="spacingAndGlyphs">U</text>
<text x="441" y="1306" fill="#b9b9b9" font-size="23.8" style="font-family:'Liberation Serif',serif" stroke="#b9b9b9" stroke-width="0.5" textLength="10" lengthAdjust="spacingAndGlyphs">D</text>
<text x="485" y="1306" fill="#b9b9b9" font-size="23.8" style="font-family:'Liberation Serif',serif" stroke="#b9b9b9" stroke-width="0.5" textLength="10" lengthAdjust="spacingAndGlyphs">B</text>
<text x="498" y="1306" fill="#b9b9b9" font-size="23.8" style="font-family:'Liberation Serif',serif" stroke="#b9b9b9" stroke-width="0.5" textLength="8" lengthAdjust="spacingAndGlyphs">I</text>
<text x="509" y="1306" fill="#b9b9b9" font-size="23.8" style="font-family:'Liberation Serif',serif" stroke="#b9b9b9" stroke-width="0.5" textLength="10" lengthAdjust="spacingAndGlyphs">A</text>
<text x="521" y="1306" fill="#b9b9b9" font-size="23.8" style="font-family:'Liberation Serif',serif" stroke="#b9b9b9" stroke-width="0.5" textLength="10" lengthAdjust="spacingAndGlyphs">S</text>
<rect x="533" y="1308" width="10" height="2" fill="#b9b9b9" shape-rendering="crispEdges"/>
<text x="545" y="1306" fill="#b9b9b9" font-size="23.8" style="font-family:'Liberation Serif',serif" stroke="#b9b9b9" stroke-width="0.5" textLength="10" lengthAdjust="spacingAndGlyphs">U</text>
<text x="557" y="1306" fill="#b9b9b9" font-size="23.8" style="font-family:'Liberation Serif',serif" stroke="#b9b9b9" stroke-width="0.5" textLength="10" lengthAdjust="spacingAndGlyphs">D</text>
<text x="601" y="1306" fill="#b9b9b9" font-size="23.8" style="font-family:'Liberation Serif',serif" stroke="#b9b9b9" stroke-width="0.5" textLength="10" lengthAdjust="spacingAndGlyphs">B</text>
<text x="613" y="1306" fill="#b9b9b9" font-size="23.8" style="font-family:'Liberation Serif',serif" stroke="#b9b9b9" stroke-width="0.5" textLength="10" lengthAdjust="spacingAndGlyphs">O</text>
<text x="625" y="1306" fill="#b9b9b9" font-size="23.8" style="font-family:'Liberation Serif',serif" stroke="#b9b9b9" stroke-width="0.5" textLength="10" lengthAdjust="spacingAndGlyphs">L</text>
<text x="637" y="1306" fill="#b9b9b9" font-size="23.8" style="font-family:'Liberation Serif',serif" stroke="#b9b9b9" stroke-width="0.5" textLength="10" lengthAdjust="spacingAndGlyphs">L</text>
<rect x="649" y="1308" width="10" height="2" fill="#b9b9b9" shape-rendering="crispEdges"/>
<text x="661" y="1306" fill="#b9b9b9" font-size="23.8" style="font-family:'Liberation Serif',serif" stroke="#b9b9b9" stroke-width="0.5" textLength="10" lengthAdjust="spacingAndGlyphs">U</text>
<text x="673" y="1306" fill="#b9b9b9" font-size="23.8" style="font-family:'Liberation Serif',serif" stroke="#b9b9b9" stroke-width="0.5" textLength="10" lengthAdjust="spacingAndGlyphs">D</text>
<text x="716" y="1306" fill="#b9b9b9" font-size="23.8" style="font-family:'Liberation Serif',serif" stroke="#b9b9b9" stroke-width="0.5" textLength="10" lengthAdjust="spacingAndGlyphs">C</text>
<text x="728" y="1306" fill="#b9b9b9" font-size="23.8" style="font-family:'Liberation Serif',serif" stroke="#b9b9b9" stroke-width="0.5" textLength="10" lengthAdjust="spacingAndGlyphs">C</text>
<text x="741" y="1306" fill="#b9b9b9" font-size="23.8" style="font-family:'Liberation Serif',serif" stroke="#b9b9b9" stroke-width="0.5" textLength="8" lengthAdjust="spacingAndGlyphs">I</text>
<rect x="752" y="1308" width="10" height="2" fill="#b9b9b9" shape-rendering="crispEdges"/>
<text x="764" y="1306" fill="#b9b9b9" font-size="23.8" style="font-family:'Liberation Serif',serif" stroke="#b9b9b9" stroke-width="0.5" textLength="10" lengthAdjust="spacingAndGlyphs">U</text>
<text x="776" y="1306" fill="#b9b9b9" font-size="23.8" style="font-family:'Liberation Serif',serif" stroke="#b9b9b9" stroke-width="0.5" textLength="10" lengthAdjust="spacingAndGlyphs">D</text>
<text x="820" y="1306" fill="#b9b9b9" font-size="23.8" style="font-family:'Liberation Serif',serif" stroke="#b9b9b9" stroke-width="0.5" textLength="10" lengthAdjust="spacingAndGlyphs">D</text>
<text x="832" y="1306" fill="#b9b9b9" font-size="23.8" style="font-family:'Liberation Serif',serif" stroke="#b9b9b9" stroke-width="0.5" textLength="10" lengthAdjust="spacingAndGlyphs">M</text>
<text x="845" y="1306" fill="#b9b9b9" font-size="23.8" style="font-family:'Liberation Serif',serif" stroke="#b9b9b9" stroke-width="0.5" textLength="8" lengthAdjust="spacingAndGlyphs">I</text>
<rect x="856" y="1308" width="10" height="2" fill="#b9b9b9" shape-rendering="crispEdges"/>
<text x="868" y="1306" fill="#b9b9b9" font-size="23.8" style="font-family:'Liberation Serif',serif" stroke="#b9b9b9" stroke-width="0.5" textLength="10" lengthAdjust="spacingAndGlyphs">U</text>
<text x="880" y="1306" fill="#b9b9b9" font-size="23.8" style="font-family:'Liberation Serif',serif" stroke="#b9b9b9" stroke-width="0.5" textLength="10" lengthAdjust="spacingAndGlyphs">D</text>
<text x="925" y="1306" fill="#b9b9b9" font-size="23.8" style="font-family:'Liberation Serif',serif" stroke="#b9b9b9" stroke-width="0.5" textLength="8" lengthAdjust="spacingAndGlyphs">I</text>
<text x="936" y="1306" fill="#b9b9b9" font-size="23.8" style="font-family:'Liberation Serif',serif" stroke="#b9b9b9" stroke-width="0.5" textLength="10" lengthAdjust="spacingAndGlyphs">N</text>
<text x="948" y="1306" fill="#b9b9b9" font-size="23.8" style="font-family:'Liberation Serif',serif" stroke="#b9b9b9" stroke-width="0.5" textLength="10" lengthAdjust="spacingAndGlyphs">S</text>
<text x="961" y="1306" fill="#b9b9b9" font-size="23.8" style="font-family:'Liberation Serif',serif" stroke="#b9b9b9" stroke-width="0.5" textLength="8" lengthAdjust="spacingAndGlyphs">I</text>
<text x="972" y="1306" fill="#b9b9b9" font-size="23.8" style="font-family:'Liberation Serif',serif" stroke="#b9b9b9" stroke-width="0.5" textLength="10" lengthAdjust="spacingAndGlyphs">D</text>
<text x="984" y="1306" fill="#b9b9b9" font-size="23.8" style="font-family:'Liberation Serif',serif" stroke="#b9b9b9" stroke-width="0.5" textLength="10" lengthAdjust="spacingAndGlyphs">E</text>
<rect x="996" y="1308" width="10" height="2" fill="#b9b9b9" shape-rendering="crispEdges"/>
<text x="1008" y="1306" fill="#b9b9b9" font-size="23.8" style="font-family:'Liberation Serif',serif" stroke="#b9b9b9" stroke-width="0.5" textLength="10" lengthAdjust="spacingAndGlyphs">U</text>
<text x="1020" y="1306" fill="#b9b9b9" font-size="23.8" style="font-family:'Liberation Serif',serif" stroke="#b9b9b9" stroke-width="0.5" textLength="10" lengthAdjust="spacingAndGlyphs">D</text>
<text x="1065" y="1306" fill="#b9b9b9" font-size="23.8" style="font-family:'Liberation Serif',serif" stroke="#b9b9b9" stroke-width="0.5" textLength="10" lengthAdjust="spacingAndGlyphs">K</text>
<text x="1077" y="1306" fill="#b9b9b9" font-size="23.8" style="font-family:'Liberation Serif',serif" stroke="#b9b9b9" stroke-width="0.5" textLength="10" lengthAdjust="spacingAndGlyphs">D</text>
<rect x="1089" y="1308" width="10" height="2" fill="#b9b9b9" shape-rendering="crispEdges"/>
<text x="1101" y="1306" fill="#b9b9b9" font-size="23.8" style="font-family:'Liberation Serif',serif" stroke="#b9b9b9" stroke-width="0.5" textLength="10" lengthAdjust="spacingAndGlyphs">U</text>
<text x="1113" y="1306" fill="#b9b9b9" font-size="23.8" style="font-family:'Liberation Serif',serif" stroke="#b9b9b9" stroke-width="0.5" textLength="10" lengthAdjust="spacingAndGlyphs">D</text>
<text x="1157" y="1306" fill="#b9b9b9" font-size="23.8" style="font-family:'Liberation Serif',serif" stroke="#b9b9b9" stroke-width="0.5" textLength="10" lengthAdjust="spacingAndGlyphs">K</text>
<text x="1169" y="1306" fill="#b9b9b9" font-size="23.8" style="font-family:'Liberation Serif',serif" stroke="#b9b9b9" stroke-width="0.5" textLength="10" lengthAdjust="spacingAndGlyphs">D</text>
<text x="1181" y="1306" fill="#b9b9b9" font-size="23.8" style="font-family:'Liberation Serif',serif" stroke="#b9b9b9" stroke-width="0.5" textLength="10" lengthAdjust="spacingAndGlyphs">J</text>
<rect x="1193" y="1308" width="10" height="2" fill="#b9b9b9" shape-rendering="crispEdges"/>
<text x="1205" y="1306" fill="#b9b9b9" font-size="23.8" style="font-family:'Liberation Serif',serif" stroke="#b9b9b9" stroke-width="0.5" textLength="10" lengthAdjust="spacingAndGlyphs">U</text>
<text x="1217" y="1306" fill="#b9b9b9" font-size="23.8" style="font-family:'Liberation Serif',serif" stroke="#b9b9b9" stroke-width="0.5" textLength="10" lengthAdjust="spacingAndGlyphs">D</text>
<text x="1261" y="1306" fill="#b9b9b9" font-size="23.8" style="font-family:'Liberation Serif',serif" stroke="#b9b9b9" stroke-width="0.5" textLength="10" lengthAdjust="spacingAndGlyphs">M</text>
<text x="1273" y="1306" fill="#b9b9b9" font-size="23.8" style="font-family:'Liberation Serif',serif" stroke="#b9b9b9" stroke-width="0.5" textLength="10" lengthAdjust="spacingAndGlyphs">A</text>
<rect x="1285" y="1308" width="10" height="2" fill="#b9b9b9" shape-rendering="crispEdges"/>
<text x="1297" y="1306" fill="#b9b9b9" font-size="23.8" style="font-family:'Liberation Serif',serif" stroke="#b9b9b9" stroke-width="0.5" textLength="10" lengthAdjust="spacingAndGlyphs">U</text>
<text x="1309" y="1306" fill="#b9b9b9" font-size="23.8" style="font-family:'Liberation Serif',serif" stroke="#b9b9b9" stroke-width="0.5" textLength="10" lengthAdjust="spacingAndGlyphs">D</text>
<text x="1352" y="1306" fill="#b9b9b9" font-size="23.8" style="font-family:'Liberation Serif',serif" stroke="#b9b9b9" stroke-width="0.5" textLength="10" lengthAdjust="spacingAndGlyphs">M</text>
<text x="1364" y="1306" fill="#b9b9b9" font-size="23.8" style="font-family:'Liberation Serif',serif" stroke="#b9b9b9" stroke-width="0.5" textLength="10" lengthAdjust="spacingAndGlyphs">A</text>
<text x="1376" y="1306" fill="#b9b9b9" font-size="23.8" style="font-family:'Liberation Serif',serif" stroke="#b9b9b9" stroke-width="0.5" textLength="10" lengthAdjust="spacingAndGlyphs">C</text>
<text x="1388" y="1306" fill="#b9b9b9" font-size="23.8" style="font-family:'Liberation Serif',serif" stroke="#b9b9b9" stroke-width="0.5" textLength="10" lengthAdjust="spacingAndGlyphs">D</text>
<rect x="1400" y="1308" width="10" height="2" fill="#b9b9b9" shape-rendering="crispEdges"/>
<text x="1412" y="1306" fill="#b9b9b9" font-size="23.8" style="font-family:'Liberation Serif',serif" stroke="#b9b9b9" stroke-width="0.5" textLength="10" lengthAdjust="spacingAndGlyphs">U</text>
<text x="1424" y="1306" fill="#b9b9b9" font-size="23.8" style="font-family:'Liberation Serif',serif" stroke="#b9b9b9" stroke-width="0.5" textLength="10" lengthAdjust="spacingAndGlyphs">D</text>
<text x="1468" y="1306" fill="#b9b9b9" font-size="23.8" style="font-family:'Liberation Serif',serif" stroke="#b9b9b9" stroke-width="0.5" textLength="10" lengthAdjust="spacingAndGlyphs">M</text>
<text x="1480" y="1306" fill="#b9b9b9" font-size="23.8" style="font-family:'Liberation Serif',serif" stroke="#b9b9b9" stroke-width="0.5" textLength="10" lengthAdjust="spacingAndGlyphs">T</text>
<text x="1492" y="1306" fill="#b9b9b9" font-size="23.8" style="font-family:'Liberation Serif',serif" stroke="#b9b9b9" stroke-width="0.5" textLength="10" lengthAdjust="spacingAndGlyphs">M</text>
<rect x="1504" y="1308" width="10" height="2" fill="#b9b9b9" shape-rendering="crispEdges"/>
<text x="1516" y="1306" fill="#b9b9b9" font-size="23.8" style="font-family:'Liberation Serif',serif" stroke="#b9b9b9" stroke-width="0.5" textLength="10" lengthAdjust="spacingAndGlyphs">U</text>
<text x="1528" y="1306" fill="#b9b9b9" font-size="23.8" style="font-family:'Liberation Serif',serif" stroke="#b9b9b9" stroke-width="0.5" textLength="10" lengthAdjust="spacingAndGlyphs">D</text>
<text x="1572" y="1306" fill="#b9b9b9" font-size="23.8" style="font-family:'Liberation Serif',serif" stroke="#b9b9b9" stroke-width="0.5" textLength="10" lengthAdjust="spacingAndGlyphs">O</text>
<text x="1584" y="1306" fill="#b9b9b9" font-size="23.8" style="font-family:'Liberation Serif',serif" stroke="#b9b9b9" stroke-width="0.5" textLength="10" lengthAdjust="spacingAndGlyphs">U</text>
<text x="1596" y="1306" fill="#b9b9b9" font-size="23.8" style="font-family:'Liberation Serif',serif" stroke="#b9b9b9" stroke-width="0.5" textLength="10" lengthAdjust="spacingAndGlyphs">T</text>
<text x="1608" y="1306" fill="#b9b9b9" font-size="23.8" style="font-family:'Liberation Serif',serif" stroke="#b9b9b9" stroke-width="0.5" textLength="10" lengthAdjust="spacingAndGlyphs">S</text>
<text x="1621" y="1306" fill="#b9b9b9" font-size="23.8" style="font-family:'Liberation Serif',serif" stroke="#b9b9b9" stroke-width="0.5" textLength="8" lengthAdjust="spacingAndGlyphs">I</text>
<text x="1632" y="1306" fill="#b9b9b9" font-size="23.8" style="font-family:'Liberation Serif',serif" stroke="#b9b9b9" stroke-width="0.5" textLength="10" lengthAdjust="spacingAndGlyphs">D</text>
<text x="1644" y="1306" fill="#b9b9b9" font-size="23.8" style="font-family:'Liberation Serif',serif" stroke="#b9b9b9" stroke-width="0.5" textLength="10" lengthAdjust="spacingAndGlyphs">E</text>
<rect x="1656" y="1308" width="10" height="2" fill="#b9b9b9" shape-rendering="crispEdges"/>
<text x="1668" y="1306" fill="#b9b9b9" font-size="23.8" style="font-family:'Liberation Serif',serif" stroke="#b9b9b9" stroke-width="0.5" textLength="10" lengthAdjust="spacingAndGlyphs">U</text>
<text x="1680" y="1306" fill="#b9b9b9" font-size="23.8" style="font-family:'Liberation Serif',serif" stroke="#b9b9b9" stroke-width="0.5" textLength="10" lengthAdjust="spacingAndGlyphs">D</text>
<text x="1726" y="1306" fill="#b9b9b9" font-size="23.8" style="font-family:'Liberation Serif',serif" stroke="#b9b9b9" stroke-width="0.5" textLength="10" lengthAdjust="spacingAndGlyphs">&gt;</text>
<text x="1738" y="1306" fill="#b9b9b9" font-size="23.8" style="font-family:'Liberation Serif',serif" stroke="#b9b9b9" stroke-width="0.5" textLength="10" lengthAdjust="spacingAndGlyphs">&gt;</text>
<text x="218" y="1306" fill="#ffffff" font-size="23.8" style="font-family:'Liberation Serif',serif" stroke="#ffffff" stroke-width="0.5" textLength="10" lengthAdjust="spacingAndGlyphs">V</text>
<text x="231" y="1306" fill="#ffffff" font-size="23.8" style="font-family:'Liberation Serif',serif" stroke="#ffffff" stroke-width="0.5" textLength="8" lengthAdjust="spacingAndGlyphs">I</text>
<text x="242" y="1306" fill="#ffffff" font-size="23.8" style="font-family:'Liberation Serif',serif" stroke="#ffffff" stroke-width="0.5" textLength="10" lengthAdjust="spacingAndGlyphs">P</text>
<text x="1922" y="1289" fill="#e4e9f0" font-size="30" letter-spacing="2.4">FX678</text>
<g shape-rendering="crispEdges">
<rect x="1771" y="1288" width="8" height="2" fill="#d8d8d8" />
<rect x="1785" y="1288" width="8" height="2" fill="#d8d8d8" />
<rect x="1803" y="1288" width="8" height="2" fill="#d8d8d8" />
<rect x="1817" y="1288" width="8" height="2" fill="#d8d8d8" />
<rect x="1881" y="1288" width="8" height="2" fill="#d8d8d8" />
<rect x="1896" y="1288" width="8" height="2" fill="#d8d8d8" />
<rect x="1912" y="1288" width="8" height="2" fill="#d8d8d8" />
<rect x="367" y="1288" width="9" height="2" fill="#c8c8c8" />
<rect x="381" y="1288" width="9" height="2" fill="#c8c8c8" />
<rect x="401" y="1288" width="9" height="2" fill="#c8c8c8" />
<rect x="415" y="1288" width="9" height="2" fill="#c8c8c8" />
<rect x="474" y="1288" width="9" height="2" fill="#c8c8c8" />
<rect x="488" y="1288" width="9" height="2" fill="#c8c8c8" />
<rect x="508" y="1288" width="9" height="2" fill="#c8c8c8" />
<rect x="522" y="1288" width="9" height="2" fill="#c8c8c8" />
<rect x="587" y="1288" width="4" height="2" fill="#c8c8c8" />
<rect x="600" y="1288" width="9" height="2" fill="#c8c8c8" />
<rect x="614" y="1288" width="9" height="2" fill="#c8c8c8" />
<rect x="632" y="1288" width="9" height="2" fill="#c8c8c8" />
<rect x="1048" y="1288" width="9" height="2" fill="#c8c8c8" />
<rect x="1064" y="1288" width="7" height="2" fill="#c8c8c8" />
<rect x="1125" y="1288" width="5" height="2" fill="#c8c8c8" />
<rect x="1137" y="1288" width="7" height="2" fill="#c8c8c8" />
<rect x="1156" y="1288" width="14" height="2" fill="#c8c8c8" />
<rect x="1229" y="1288" width="9" height="2" fill="#c8c8c8" />
<rect x="1245" y="1288" width="6" height="2" fill="#c8c8c8" />
<rect x="1263" y="1288" width="23" height="2" fill="#c8c8c8" />
<rect x="1338" y="1288" width="9" height="2" fill="#c8c8c8" />
<rect x="1354" y="1288" width="41" height="2" fill="#c8c8c8" />
<rect x="1446" y="1288" width="9" height="2" fill="#c8c8c8" />
<rect x="1463" y="1288" width="5" height="2" fill="#c8c8c8" />
<rect x="1487" y="1288" width="14" height="2" fill="#c8c8c8" />
<rect x="1555" y="1288" width="7" height="2" fill="#c8c8c8" />
<rect x="1570" y="1288" width="13" height="2" fill="#c8c8c8" />
</g>
</svg></body></html>
